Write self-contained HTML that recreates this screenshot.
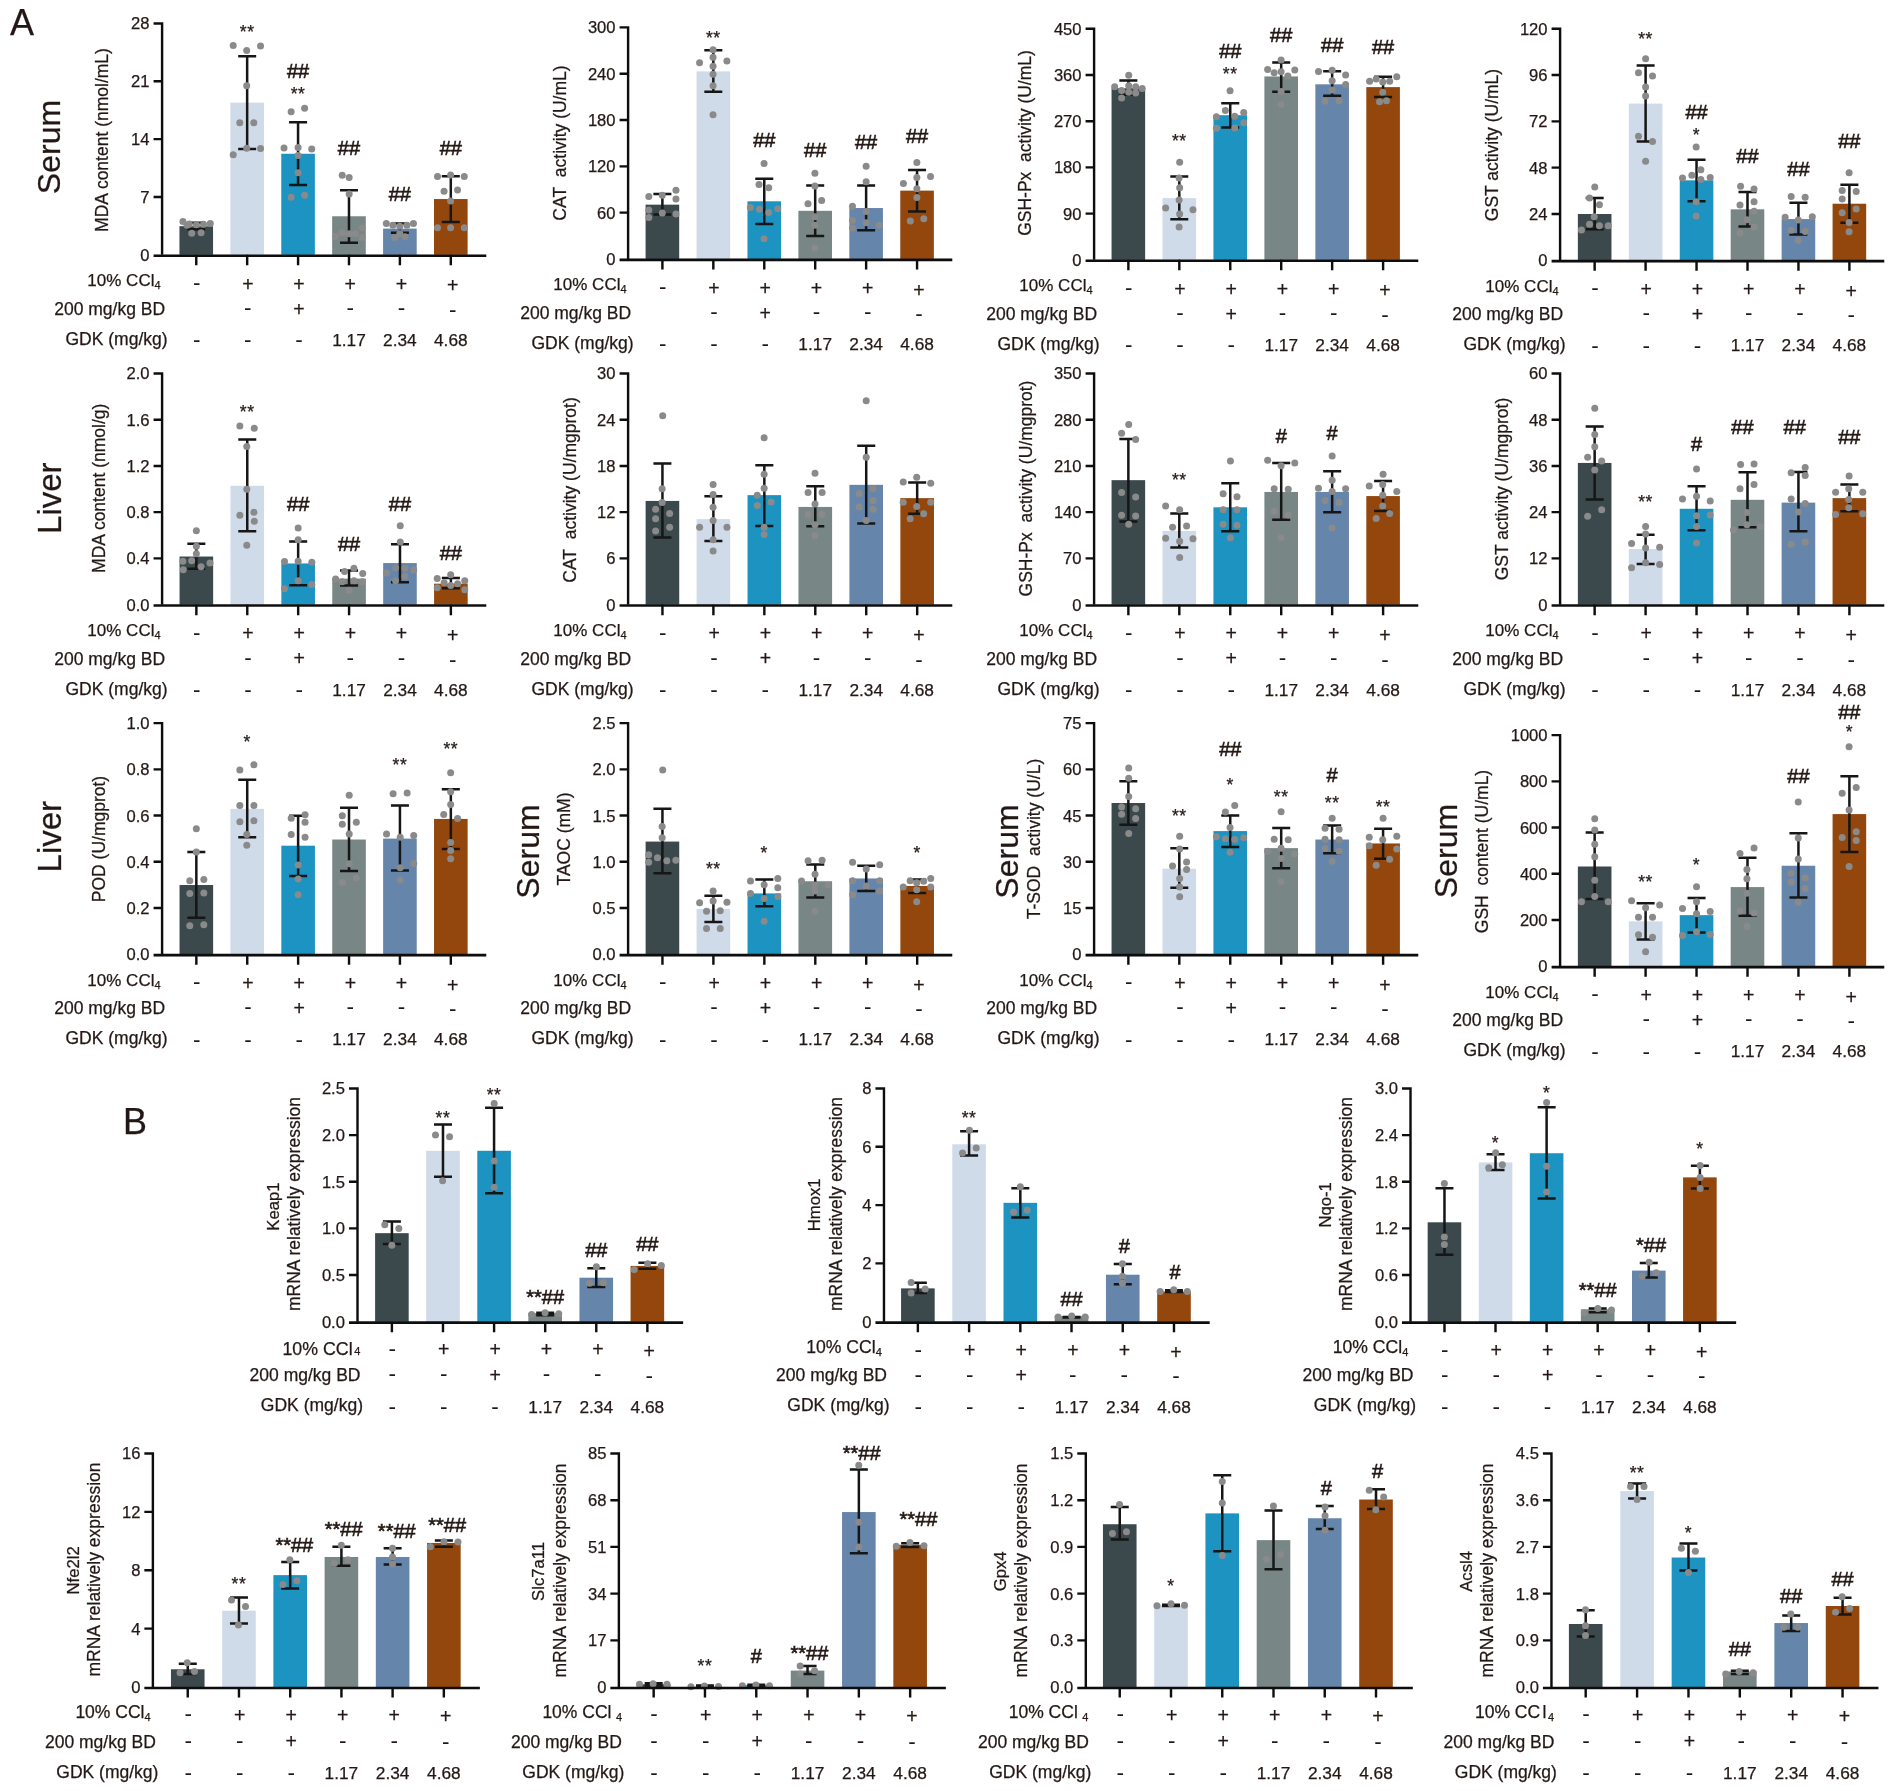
<!DOCTYPE html>
<html lang="en">
<head>
<meta charset="utf-8">
<title>Figure</title>
<style>
html,body{margin:0;padding:0;background:#fff;}
body{width:1902px;height:1791px;overflow:hidden;}
svg{display:block;font-family:'Liberation Sans', Arial, Helvetica, sans-serif;fill:#231815;}
text{stroke:#231815;stroke-width:0.25px;}
</style>
</head>
<body>
<svg width="1902" height="1791" viewBox="0 0 1902 1791">
<defs><filter id="soft" x="0" y="0" width="1902" height="1791" filterUnits="userSpaceOnUse"><feGaussianBlur stdDeviation="0.42"/></filter></defs>
<rect width="1902" height="1791" fill="#ffffff"/>
<g filter="url(#soft)">
<g id="c1">
<rect x="179.45" y="226.18" width="33.6" height="28.64" fill="#3a494e"/>
<rect x="230.36" y="102.65" width="33.6" height="152.17" fill="#d0dbea"/>
<rect x="281.27" y="153.75" width="33.6" height="101.07" fill="#1a93c1"/>
<rect x="332.18" y="216.26" width="33.6" height="38.56" fill="#788685"/>
<rect x="383.09" y="228.62" width="33.6" height="26.2" fill="#6685ab"/>
<rect x="434" y="199.04" width="33.6" height="55.78" fill="#94470a"/>
<g stroke="#161616" stroke-width="2.5" fill="none">
<path d="M187.25 222.81H205.25M187.25 229.36H205.25M196.25 222.81V229.36"/>
<path d="M238.16 56.23H256.16M238.16 148.88H256.16M247.16 56.23V148.88"/>
<path d="M289.07 122.3H307.07M289.07 185.01H307.07M298.07 122.3V185.01"/>
<path d="M339.98 190.25H357.98M339.98 242.65H357.98M348.98 190.25V242.65"/>
<path d="M390.89 223.38H408.89M390.89 232.73H408.89M399.89 223.38V232.73"/>
<path d="M441.8 176.21H459.8M441.8 222.07H459.8M450.8 176.21V222.07"/>
</g>
<g fill="#8a8a8a">
<circle cx="182.96" cy="221.5" r="3.5"/>
<circle cx="189.32" cy="223.94" r="3.5"/>
<circle cx="196.43" cy="224.87" r="3.5"/>
<circle cx="203.54" cy="224.31" r="3.5"/>
<circle cx="210.28" cy="223.38" r="3.5"/>
<circle cx="191.75" cy="233.3" r="3.5"/>
<circle cx="201.11" cy="232.73" r="3.5"/>
<circle cx="187.07" cy="225.25" r="3.5"/>
<circle cx="233.21" cy="45.56" r="3.5"/>
<circle cx="246.69" cy="50.62" r="3.5"/>
<circle cx="260.54" cy="46.12" r="3.5"/>
<circle cx="246.69" cy="85.8" r="3.5"/>
<circle cx="239.76" cy="122.86" r="3.5"/>
<circle cx="253.8" cy="122.86" r="3.5"/>
<circle cx="246.69" cy="148.13" r="3.5"/>
<circle cx="260.54" cy="148.51" r="3.5"/>
<circle cx="233.21" cy="154.68" r="3.5"/>
<circle cx="291.14" cy="111.63" r="3.5"/>
<circle cx="304.62" cy="108.26" r="3.5"/>
<circle cx="284.03" cy="147.95" r="3.5"/>
<circle cx="298.07" cy="147.57" r="3.5"/>
<circle cx="311.73" cy="149.07" r="3.5"/>
<circle cx="298.07" cy="155.62" r="3.5"/>
<circle cx="298.07" cy="172.84" r="3.5"/>
<circle cx="291.14" cy="197.17" r="3.5"/>
<circle cx="304.62" cy="195.3" r="3.5"/>
<circle cx="342.24" cy="175.27" r="3.5"/>
<circle cx="349.16" cy="177.52" r="3.5"/>
<circle cx="349.16" cy="193.99" r="3.5"/>
<circle cx="335.69" cy="236.48" r="3.5"/>
<circle cx="342.24" cy="232.73" r="3.5"/>
<circle cx="349.16" cy="233.67" r="3.5"/>
<circle cx="355.34" cy="233.67" r="3.5"/>
<circle cx="362.27" cy="228.05" r="3.5"/>
<circle cx="362.27" cy="237.41" r="3.5"/>
<circle cx="386.32" cy="223.38" r="3.5"/>
<circle cx="392.87" cy="225.25" r="3.5"/>
<circle cx="399.79" cy="226.18" r="3.5"/>
<circle cx="406.91" cy="225.25" r="3.5"/>
<circle cx="413.46" cy="223.38" r="3.5"/>
<circle cx="394.74" cy="237.41" r="3.5"/>
<circle cx="405.03" cy="236.85" r="3.5"/>
<circle cx="399.79" cy="233.67" r="3.5"/>
<circle cx="437.51" cy="176.58" r="3.5"/>
<circle cx="450.61" cy="175.09" r="3.5"/>
<circle cx="464.27" cy="176.58" r="3.5"/>
<circle cx="444.06" cy="191.18" r="3.5"/>
<circle cx="457.54" cy="190.06" r="3.5"/>
<circle cx="450.61" cy="200.91" r="3.5"/>
<circle cx="437.51" cy="227.68" r="3.5"/>
<circle cx="450.61" cy="227.68" r="3.5"/>
<circle cx="464.27" cy="227.68" r="3.5"/>
</g>
<path d="M162.09 22.28V254.82M153.59 196.98H162.09M153.59 139.15H162.09M153.59 81.31H162.09M153.59 23.48H162.09M196.25 254.82V265.32M247.16 254.82V265.32M298.07 254.82V265.32M348.98 254.82V265.32M399.89 254.82V265.32M450.8 254.82V265.32" stroke="#0a0a0a" stroke-width="2.4" fill="none"/>
<path d="M153.59 255.72H486.27" stroke="#0a0a0a" stroke-width="2.6" fill="none"/>
<text x="149.59" y="260.8" font-size="16.6" text-anchor="end">0</text>
<text x="149.59" y="202.96" font-size="16.6" text-anchor="end">7</text>
<text x="149.59" y="145.12" font-size="16.6" text-anchor="end">14</text>
<text x="149.59" y="87.29" font-size="16.6" text-anchor="end">21</text>
<text x="149.59" y="29.45" font-size="16.6" text-anchor="end">28</text>
<text x="247.16" y="37.93" font-size="17.5" text-anchor="middle" letter-spacing="0.6">**</text>
<text x="298.07" y="77.92" font-size="20" text-anchor="middle" style="stroke-width:0.6px">##</text>
<text x="298.07" y="99.7" font-size="17.5" text-anchor="middle" letter-spacing="0.6">**</text>
<text x="348.98" y="154.66" font-size="20" text-anchor="middle" style="stroke-width:0.6px">##</text>
<text x="399.89" y="201.45" font-size="20" text-anchor="middle" style="stroke-width:0.6px">##</text>
<text x="450.8" y="154.66" font-size="20" text-anchor="middle" style="stroke-width:0.6px">##</text>
<text transform="translate(108.02,140) rotate(-90)" font-size="17.5" text-anchor="middle">MDA content (nmol/mL)</text>
<text transform="translate(60.41,147) rotate(-90)" font-size="32" text-anchor="middle">Serum</text>
<text x="160.59" y="286.27" font-size="17" text-anchor="end">10% CCl<tspan dy="3" font-size="11">4</tspan></text>
<text x="196.65" y="290.02" font-size="22.5" text-anchor="middle" style="stroke:none">-</text>
<text x="247.86" y="290.51" font-size="19.5" text-anchor="middle">+</text>
<text x="299.07" y="290.51" font-size="19.5" text-anchor="middle">+</text>
<text x="350.28" y="290.51" font-size="19.5" text-anchor="middle">+</text>
<text x="401.49" y="290.51" font-size="19.5" text-anchor="middle">+</text>
<text x="452.7" y="292.41" font-size="19.5" text-anchor="middle">+</text>
<text x="165.09" y="314.84" font-size="17.5" text-anchor="end">200 mg/kg BD</text>
<text x="247.86" y="315.02" font-size="22.5" text-anchor="middle" style="stroke:none">-</text>
<text x="299.07" y="315.51" font-size="19.5" text-anchor="middle">+</text>
<text x="350.28" y="315.02" font-size="22.5" text-anchor="middle" style="stroke:none">-</text>
<text x="401.49" y="315.02" font-size="22.5" text-anchor="middle" style="stroke:none">-</text>
<text x="452.7" y="316.82" font-size="22.5" text-anchor="middle" style="stroke:none">-</text>
<text x="167.59" y="345.04" font-size="17.5" text-anchor="end">GDK (mg/kg)</text>
<text x="196.65" y="347.22" font-size="22.5" text-anchor="middle" style="stroke:none">-</text>
<text x="247.86" y="347.22" font-size="22.5" text-anchor="middle" style="stroke:none">-</text>
<text x="299.07" y="347.22" font-size="22.5" text-anchor="middle" style="stroke:none">-</text>
<text x="348.98" y="345.77" font-size="17.3" text-anchor="middle">1.17</text>
<text x="399.89" y="345.77" font-size="17.3" text-anchor="middle">2.34</text>
<text x="450.8" y="345.77" font-size="17.3" text-anchor="middle">4.68</text>
</g>
<g id="c2">
<rect x="645.59" y="204.66" width="33.6" height="54.28" fill="#3a494e"/>
<rect x="696.52" y="71.39" width="33.6" height="187.55" fill="#d0dbea"/>
<rect x="747.46" y="201.29" width="33.6" height="57.65" fill="#1a93c1"/>
<rect x="798.39" y="210.83" width="33.6" height="48.1" fill="#788685"/>
<rect x="849.33" y="208.03" width="33.6" height="50.91" fill="#6685ab"/>
<rect x="900.26" y="190.62" width="33.6" height="68.32" fill="#94470a"/>
<g stroke="#161616" stroke-width="2.5" fill="none">
<path d="M653.39 193.99H671.39M653.39 214.58H671.39M662.39 193.99V214.58"/>
<path d="M704.32 50.24H722.32M704.32 91.79H722.32M713.32 50.24V91.79"/>
<path d="M755.26 178.83H773.26M755.26 223.94H773.26M764.26 178.83V223.94"/>
<path d="M806.19 185.38H824.19M806.19 236.1H824.19M815.19 185.38V236.1"/>
<path d="M857.13 185.38H875.13M857.13 230.3H875.13M866.13 185.38V230.3"/>
<path d="M908.06 170.03H926.06M908.06 211.58H926.06M917.06 170.03V211.58"/>
</g>
<g fill="#8a8a8a">
<circle cx="648.82" cy="196.61" r="3.5"/>
<circle cx="662.29" cy="195.3" r="3.5"/>
<circle cx="675.96" cy="190.25" r="3.5"/>
<circle cx="675.96" cy="199.04" r="3.5"/>
<circle cx="648.82" cy="209.9" r="3.5"/>
<circle cx="662.29" cy="213.08" r="3.5"/>
<circle cx="675.96" cy="214.02" r="3.5"/>
<circle cx="648.82" cy="217.39" r="3.5"/>
<circle cx="713.04" cy="49.68" r="3.5"/>
<circle cx="713.04" cy="57.17" r="3.5"/>
<circle cx="699.57" cy="62.78" r="3.5"/>
<circle cx="726.89" cy="60.91" r="3.5"/>
<circle cx="713.04" cy="66.15" r="3.5"/>
<circle cx="713.04" cy="74.2" r="3.5"/>
<circle cx="713.04" cy="85.8" r="3.5"/>
<circle cx="713.04" cy="114.82" r="3.5"/>
<circle cx="764.07" cy="163.48" r="3.5"/>
<circle cx="759.02" cy="184.44" r="3.5"/>
<circle cx="768.75" cy="187.81" r="3.5"/>
<circle cx="750.41" cy="207.47" r="3.5"/>
<circle cx="759.39" cy="209.34" r="3.5"/>
<circle cx="768.75" cy="212.52" r="3.5"/>
<circle cx="777.73" cy="208.78" r="3.5"/>
<circle cx="764.07" cy="238.72" r="3.5"/>
<circle cx="814.91" cy="173.21" r="3.5"/>
<circle cx="814.91" cy="185.94" r="3.5"/>
<circle cx="821.65" cy="200.54" r="3.5"/>
<circle cx="807.99" cy="203.72" r="3.5"/>
<circle cx="814.91" cy="216.82" r="3.5"/>
<circle cx="814.91" cy="225.25" r="3.5"/>
<circle cx="814.91" cy="248.08" r="3.5"/>
<circle cx="866.13" cy="166.29" r="3.5"/>
<circle cx="866.13" cy="181.82" r="3.5"/>
<circle cx="852.46" cy="206.16" r="3.5"/>
<circle cx="866.13" cy="211.58" r="3.5"/>
<circle cx="852.46" cy="220.57" r="3.5"/>
<circle cx="866.13" cy="222.81" r="3.5"/>
<circle cx="879.23" cy="225.25" r="3.5"/>
<circle cx="852.46" cy="228.05" r="3.5"/>
<circle cx="916.87" cy="162.54" r="3.5"/>
<circle cx="930.54" cy="176.58" r="3.5"/>
<circle cx="903.4" cy="183.51" r="3.5"/>
<circle cx="916.87" cy="177.52" r="3.5"/>
<circle cx="916.87" cy="188.75" r="3.5"/>
<circle cx="916.87" cy="197.55" r="3.5"/>
<circle cx="923.8" cy="218.7" r="3.5"/>
<circle cx="910.32" cy="220.94" r="3.5"/>
</g>
<path d="M628.09 26.21V258.94M619.59 212.63H628.09M619.59 166.33H628.09M619.59 120.02H628.09M619.59 73.71H628.09M619.59 27.41H628.09M662.39 258.94V269.44M713.32 258.94V269.44M764.26 258.94V269.44M815.19 258.94V269.44M866.13 258.94V269.44M917.06 258.94V269.44" stroke="#0a0a0a" stroke-width="2.4" fill="none"/>
<path d="M619.59 259.84H952.27" stroke="#0a0a0a" stroke-width="2.6" fill="none"/>
<text x="615.59" y="264.91" font-size="16.6" text-anchor="end">0</text>
<text x="615.59" y="218.61" font-size="16.6" text-anchor="end">60</text>
<text x="615.59" y="172.3" font-size="16.6" text-anchor="end">120</text>
<text x="615.59" y="126" font-size="16.6" text-anchor="end">180</text>
<text x="615.59" y="79.69" font-size="16.6" text-anchor="end">240</text>
<text x="615.59" y="33.38" font-size="16.6" text-anchor="end">300</text>
<text x="713.32" y="43.55" font-size="17.5" text-anchor="middle" letter-spacing="0.6">**</text>
<text x="764.26" y="147.17" font-size="20" text-anchor="middle" style="stroke-width:0.6px">##</text>
<text x="815.19" y="156.9" font-size="20" text-anchor="middle" style="stroke-width:0.6px">##</text>
<text x="866.13" y="149.42" font-size="20" text-anchor="middle" style="stroke-width:0.6px">##</text>
<text x="917.06" y="143.43" font-size="20" text-anchor="middle" style="stroke-width:0.6px">##</text>
<text transform="translate(566.02,143) rotate(-90)" font-size="17.5" text-anchor="middle">CAT&#160;&#160;activity (U/mL)</text>
<text x="626.59" y="290.39" font-size="17" text-anchor="end">10% CCl<tspan dy="3" font-size="11">4</tspan></text>
<text x="662.79" y="294.13" font-size="22.5" text-anchor="middle" style="stroke:none">-</text>
<text x="714.02" y="294.63" font-size="19.5" text-anchor="middle">+</text>
<text x="765.26" y="294.63" font-size="19.5" text-anchor="middle">+</text>
<text x="816.49" y="294.63" font-size="19.5" text-anchor="middle">+</text>
<text x="867.73" y="294.63" font-size="19.5" text-anchor="middle">+</text>
<text x="918.96" y="296.53" font-size="19.5" text-anchor="middle">+</text>
<text x="631.09" y="318.96" font-size="17.5" text-anchor="end">200 mg/kg BD</text>
<text x="714.02" y="319.13" font-size="22.5" text-anchor="middle" style="stroke:none">-</text>
<text x="765.26" y="319.63" font-size="19.5" text-anchor="middle">+</text>
<text x="816.49" y="319.13" font-size="22.5" text-anchor="middle" style="stroke:none">-</text>
<text x="867.73" y="319.13" font-size="22.5" text-anchor="middle" style="stroke:none">-</text>
<text x="918.96" y="320.93" font-size="22.5" text-anchor="middle" style="stroke:none">-</text>
<text x="633.59" y="349.16" font-size="17.5" text-anchor="end">GDK (mg/kg)</text>
<text x="662.79" y="351.33" font-size="22.5" text-anchor="middle" style="stroke:none">-</text>
<text x="714.02" y="351.33" font-size="22.5" text-anchor="middle" style="stroke:none">-</text>
<text x="765.26" y="351.33" font-size="22.5" text-anchor="middle" style="stroke:none">-</text>
<text x="815.19" y="349.89" font-size="17.3" text-anchor="middle">1.17</text>
<text x="866.13" y="349.89" font-size="17.3" text-anchor="middle">2.34</text>
<text x="917.06" y="349.89" font-size="17.3" text-anchor="middle">4.68</text>
</g>
<g id="c3">
<rect x="1111.55" y="88.24" width="33.6" height="171.64" fill="#3a494e"/>
<rect x="1162.5" y="198.11" width="33.6" height="61.77" fill="#d0dbea"/>
<rect x="1213.45" y="115.19" width="33.6" height="144.68" fill="#1a93c1"/>
<rect x="1264.4" y="76.45" width="33.6" height="183.43" fill="#788685"/>
<rect x="1315.35" y="84.31" width="33.6" height="175.57" fill="#6685ab"/>
<rect x="1366.3" y="87.11" width="33.6" height="172.76" fill="#94470a"/>
<g stroke="#161616" stroke-width="2.5" fill="none">
<path d="M1119.35 80.56H1137.35M1119.35 94.79H1137.35M1128.35 80.56V94.79"/>
<path d="M1170.3 176.58H1188.3M1170.3 219.26H1188.3M1179.3 176.58V219.26"/>
<path d="M1221.25 103.21H1239.25M1221.25 127.54H1239.25M1230.25 103.21V127.54"/>
<path d="M1272.2 62.41H1290.2M1272.2 91.79H1290.2M1281.2 62.41V91.79"/>
<path d="M1323.15 71.21H1341.15M1323.15 95.72H1341.15M1332.15 71.21V95.72"/>
<path d="M1374.1 76.82H1392.1M1374.1 97.03H1392.1M1383.1 76.82V97.03"/>
</g>
<g fill="#8a8a8a">
<circle cx="1128.72" cy="75.14" r="3.5"/>
<circle cx="1114.68" cy="86.74" r="3.5"/>
<circle cx="1121.61" cy="90.48" r="3.5"/>
<circle cx="1128.72" cy="85.8" r="3.5"/>
<circle cx="1135.65" cy="86.74" r="3.5"/>
<circle cx="1142.2" cy="88.61" r="3.5"/>
<circle cx="1128.72" cy="92.36" r="3.5"/>
<circle cx="1135.65" cy="92.92" r="3.5"/>
<circle cx="1121.61" cy="97.97" r="3.5"/>
<circle cx="1179.67" cy="162.17" r="3.5"/>
<circle cx="1179.11" cy="177.89" r="3.5"/>
<circle cx="1179.67" cy="187.81" r="3.5"/>
<circle cx="1179.11" cy="199.98" r="3.5"/>
<circle cx="1165.63" cy="208.03" r="3.5"/>
<circle cx="1192.96" cy="209.71" r="3.5"/>
<circle cx="1179.67" cy="214.02" r="3.5"/>
<circle cx="1179.11" cy="227.12" r="3.5"/>
<circle cx="1230.06" cy="90.86" r="3.5"/>
<circle cx="1225.38" cy="110.51" r="3.5"/>
<circle cx="1243.73" cy="112.38" r="3.5"/>
<circle cx="1216.4" cy="116.69" r="3.5"/>
<circle cx="1234.74" cy="116.31" r="3.5"/>
<circle cx="1243.73" cy="122.68" r="3.5"/>
<circle cx="1216.4" cy="128.29" r="3.5"/>
<circle cx="1234.74" cy="127.92" r="3.5"/>
<circle cx="1281.11" cy="59.97" r="3.5"/>
<circle cx="1267.63" cy="69.52" r="3.5"/>
<circle cx="1294.77" cy="69.89" r="3.5"/>
<circle cx="1274.18" cy="72.7" r="3.5"/>
<circle cx="1281.11" cy="71.77" r="3.5"/>
<circle cx="1287.84" cy="75.88" r="3.5"/>
<circle cx="1281.11" cy="91.42" r="3.5"/>
<circle cx="1281.11" cy="104.52" r="3.5"/>
<circle cx="1318.49" cy="71.39" r="3.5"/>
<circle cx="1332.15" cy="70.27" r="3.5"/>
<circle cx="1345.63" cy="74.95" r="3.5"/>
<circle cx="1332.15" cy="80.75" r="3.5"/>
<circle cx="1345.63" cy="84.49" r="3.5"/>
<circle cx="1332.15" cy="89.92" r="3.5"/>
<circle cx="1325.04" cy="101.34" r="3.5"/>
<circle cx="1339.08" cy="100.78" r="3.5"/>
<circle cx="1396.76" cy="76.82" r="3.5"/>
<circle cx="1369.62" cy="81.13" r="3.5"/>
<circle cx="1376.18" cy="78.88" r="3.5"/>
<circle cx="1382.73" cy="82.06" r="3.5"/>
<circle cx="1389.65" cy="81.13" r="3.5"/>
<circle cx="1382.73" cy="92.36" r="3.5"/>
<circle cx="1379.54" cy="101.71" r="3.5"/>
<circle cx="1386.47" cy="100.78" r="3.5"/>
</g>
<path d="M1094.09 27.52V259.87M1085.59 213.64H1094.09M1085.59 167.41H1094.09M1085.59 121.18H1094.09M1085.59 74.95H1094.09M1085.59 28.72H1094.09M1128.35 259.87V270.37M1179.3 259.87V270.37M1230.25 259.87V270.37M1281.2 259.87V270.37M1332.15 259.87V270.37M1383.1 259.87V270.37" stroke="#0a0a0a" stroke-width="2.4" fill="none"/>
<path d="M1085.59 260.77H1418.27" stroke="#0a0a0a" stroke-width="2.6" fill="none"/>
<text x="1081.59" y="265.85" font-size="16.6" text-anchor="end">0</text>
<text x="1081.59" y="219.62" font-size="16.6" text-anchor="end">90</text>
<text x="1081.59" y="173.39" font-size="16.6" text-anchor="end">180</text>
<text x="1081.59" y="127.16" font-size="16.6" text-anchor="end">270</text>
<text x="1081.59" y="80.92" font-size="16.6" text-anchor="end">360</text>
<text x="1081.59" y="34.69" font-size="16.6" text-anchor="end">450</text>
<text x="1179.3" y="147.05" font-size="17.5" text-anchor="middle" letter-spacing="0.6">**</text>
<text x="1230.25" y="57.7" font-size="20" text-anchor="middle" style="stroke-width:0.6px">##</text>
<text x="1230.25" y="80.04" font-size="17.5" text-anchor="middle" letter-spacing="0.6">**</text>
<text x="1281.2" y="42.35" font-size="20" text-anchor="middle" style="stroke-width:0.6px">##</text>
<text x="1332.15" y="51.71" font-size="20" text-anchor="middle" style="stroke-width:0.6px">##</text>
<text x="1383.1" y="54.15" font-size="20" text-anchor="middle" style="stroke-width:0.6px">##</text>
<text transform="translate(1031.02,143) rotate(-90)" font-size="17.5" text-anchor="middle">GSH-Px&#160;&#160;activity (U/mL)</text>
<text x="1092.59" y="291.32" font-size="17" text-anchor="end">10% CCl<tspan dy="3" font-size="11">4</tspan></text>
<text x="1128.75" y="295.07" font-size="22.5" text-anchor="middle" style="stroke:none">-</text>
<text x="1180" y="295.57" font-size="19.5" text-anchor="middle">+</text>
<text x="1231.25" y="295.57" font-size="19.5" text-anchor="middle">+</text>
<text x="1282.5" y="295.57" font-size="19.5" text-anchor="middle">+</text>
<text x="1333.75" y="295.57" font-size="19.5" text-anchor="middle">+</text>
<text x="1385" y="297.47" font-size="19.5" text-anchor="middle">+</text>
<text x="1097.09" y="319.89" font-size="17.5" text-anchor="end">200 mg/kg BD</text>
<text x="1180" y="320.07" font-size="22.5" text-anchor="middle" style="stroke:none">-</text>
<text x="1231.25" y="320.57" font-size="19.5" text-anchor="middle">+</text>
<text x="1282.5" y="320.07" font-size="22.5" text-anchor="middle" style="stroke:none">-</text>
<text x="1333.75" y="320.07" font-size="22.5" text-anchor="middle" style="stroke:none">-</text>
<text x="1385" y="321.87" font-size="22.5" text-anchor="middle" style="stroke:none">-</text>
<text x="1099.59" y="350.09" font-size="17.5" text-anchor="end">GDK (mg/kg)</text>
<text x="1128.75" y="352.27" font-size="22.5" text-anchor="middle" style="stroke:none">-</text>
<text x="1180" y="352.27" font-size="22.5" text-anchor="middle" style="stroke:none">-</text>
<text x="1231.25" y="352.27" font-size="22.5" text-anchor="middle" style="stroke:none">-</text>
<text x="1281.2" y="350.83" font-size="17.3" text-anchor="middle">1.17</text>
<text x="1332.15" y="350.83" font-size="17.3" text-anchor="middle">2.34</text>
<text x="1383.1" y="350.83" font-size="17.3" text-anchor="middle">4.68</text>
</g>
<g id="c4">
<rect x="1577.86" y="214.02" width="33.6" height="46.23" fill="#3a494e"/>
<rect x="1628.81" y="103.59" width="33.6" height="156.66" fill="#d0dbea"/>
<rect x="1679.75" y="180.33" width="33.6" height="79.92" fill="#1a93c1"/>
<rect x="1730.69" y="209.34" width="33.6" height="50.91" fill="#788685"/>
<rect x="1781.63" y="219.07" width="33.6" height="41.18" fill="#6685ab"/>
<rect x="1832.58" y="203.72" width="33.6" height="56.53" fill="#94470a"/>
<g stroke="#161616" stroke-width="2.5" fill="none">
<path d="M1585.66 198.11H1603.66M1585.66 229.36H1603.66M1594.66 198.11V229.36"/>
<path d="M1636.61 65.59H1654.61M1636.61 141.39H1654.61M1645.61 65.59V141.39"/>
<path d="M1687.55 159.74H1705.55M1687.55 201.29H1705.55M1696.55 159.74V201.29"/>
<path d="M1738.49 191.93H1756.49M1738.49 226.56H1756.49M1747.49 191.93V226.56"/>
<path d="M1789.43 202.79H1807.43M1789.43 234.61H1807.43M1798.43 202.79V234.61"/>
<path d="M1840.38 184.63H1858.38M1840.38 222.81H1858.38M1849.38 184.63V222.81"/>
</g>
<g fill="#8a8a8a">
<circle cx="1594.76" cy="186.88" r="3.5"/>
<circle cx="1589.52" cy="198.11" r="3.5"/>
<circle cx="1599.44" cy="204.66" r="3.5"/>
<circle cx="1594.2" cy="216.82" r="3.5"/>
<circle cx="1589.52" cy="224.31" r="3.5"/>
<circle cx="1599.44" cy="225.81" r="3.5"/>
<circle cx="1608.23" cy="225.81" r="3.5"/>
<circle cx="1581.47" cy="229.93" r="3.5"/>
<circle cx="1645.61" cy="58.66" r="3.5"/>
<circle cx="1638.49" cy="72.7" r="3.5"/>
<circle cx="1652.53" cy="76.07" r="3.5"/>
<circle cx="1645.61" cy="87.11" r="3.5"/>
<circle cx="1645.61" cy="96.1" r="3.5"/>
<circle cx="1638.49" cy="136.34" r="3.5"/>
<circle cx="1652.53" cy="141.58" r="3.5"/>
<circle cx="1645.61" cy="161.23" r="3.5"/>
<circle cx="1696.17" cy="147.01" r="3.5"/>
<circle cx="1700.85" cy="169.66" r="3.5"/>
<circle cx="1691.87" cy="175.27" r="3.5"/>
<circle cx="1682.51" cy="177.89" r="3.5"/>
<circle cx="1700.85" cy="179.39" r="3.5"/>
<circle cx="1710.21" cy="177.52" r="3.5"/>
<circle cx="1696.17" cy="201.85" r="3.5"/>
<circle cx="1696.17" cy="215.89" r="3.5"/>
<circle cx="1740.57" cy="186.32" r="3.5"/>
<circle cx="1754.04" cy="189.12" r="3.5"/>
<circle cx="1754.04" cy="201.85" r="3.5"/>
<circle cx="1740.01" cy="205.03" r="3.5"/>
<circle cx="1754.04" cy="211.21" r="3.5"/>
<circle cx="1746.93" cy="219.63" r="3.5"/>
<circle cx="1754.04" cy="227.12" r="3.5"/>
<circle cx="1740.01" cy="233.11" r="3.5"/>
<circle cx="1791.14" cy="196.61" r="3.5"/>
<circle cx="1805.17" cy="197.17" r="3.5"/>
<circle cx="1785.15" cy="217.2" r="3.5"/>
<circle cx="1812.29" cy="216.82" r="3.5"/>
<circle cx="1798.25" cy="220.01" r="3.5"/>
<circle cx="1791.14" cy="230.3" r="3.5"/>
<circle cx="1805.17" cy="231.42" r="3.5"/>
<circle cx="1798.25" cy="240.6" r="3.5"/>
<circle cx="1849.1" cy="172.84" r="3.5"/>
<circle cx="1842.17" cy="190.62" r="3.5"/>
<circle cx="1856.21" cy="191.56" r="3.5"/>
<circle cx="1842.17" cy="199.04" r="3.5"/>
<circle cx="1856.21" cy="208.96" r="3.5"/>
<circle cx="1842.17" cy="212.71" r="3.5"/>
<circle cx="1849.1" cy="222.44" r="3.5"/>
<circle cx="1849.1" cy="231.8" r="3.5"/>
</g>
<path d="M1560.09 27.52V260.25M1551.59 213.94H1560.09M1551.59 167.64H1560.09M1551.59 121.33H1560.09M1551.59 75.02H1560.09M1551.59 28.72H1560.09M1594.66 260.25V270.75M1645.61 260.25V270.75M1696.55 260.25V270.75M1747.49 260.25V270.75M1798.43 260.25V270.75M1849.38 260.25V270.75" stroke="#0a0a0a" stroke-width="2.4" fill="none"/>
<path d="M1551.59 261.15H1884.27" stroke="#0a0a0a" stroke-width="2.6" fill="none"/>
<text x="1547.59" y="266.22" font-size="16.6" text-anchor="end">0</text>
<text x="1547.59" y="219.92" font-size="16.6" text-anchor="end">24</text>
<text x="1547.59" y="173.61" font-size="16.6" text-anchor="end">48</text>
<text x="1547.59" y="127.31" font-size="16.6" text-anchor="end">72</text>
<text x="1547.59" y="81" font-size="16.6" text-anchor="end">96</text>
<text x="1547.59" y="34.69" font-size="16.6" text-anchor="end">120</text>
<text x="1645.61" y="45.42" font-size="17.5" text-anchor="middle" letter-spacing="0.6">**</text>
<text x="1696.55" y="119.09" font-size="20" text-anchor="middle" style="stroke-width:0.6px">##</text>
<text x="1696.55" y="140.87" font-size="17.5" text-anchor="middle" letter-spacing="0.6">*</text>
<text x="1747.49" y="163.45" font-size="20" text-anchor="middle" style="stroke-width:0.6px">##</text>
<text x="1798.43" y="176.18" font-size="20" text-anchor="middle" style="stroke-width:0.6px">##</text>
<text x="1849.38" y="148.48" font-size="20" text-anchor="middle" style="stroke-width:0.6px">##</text>
<text transform="translate(1498.02,145) rotate(-90)" font-size="17.5" text-anchor="middle">GST activity (U/mL)</text>
<text x="1558.59" y="291.7" font-size="17" text-anchor="end">10% CCl<tspan dy="3" font-size="11">4</tspan></text>
<text x="1595.06" y="295.44" font-size="22.5" text-anchor="middle" style="stroke:none">-</text>
<text x="1646.31" y="295.94" font-size="19.5" text-anchor="middle">+</text>
<text x="1697.55" y="295.94" font-size="19.5" text-anchor="middle">+</text>
<text x="1748.79" y="295.94" font-size="19.5" text-anchor="middle">+</text>
<text x="1800.03" y="295.94" font-size="19.5" text-anchor="middle">+</text>
<text x="1851.28" y="297.84" font-size="19.5" text-anchor="middle">+</text>
<text x="1563.09" y="320.27" font-size="17.5" text-anchor="end">200 mg/kg BD</text>
<text x="1646.31" y="320.44" font-size="22.5" text-anchor="middle" style="stroke:none">-</text>
<text x="1697.55" y="320.94" font-size="19.5" text-anchor="middle">+</text>
<text x="1748.79" y="320.44" font-size="22.5" text-anchor="middle" style="stroke:none">-</text>
<text x="1800.03" y="320.44" font-size="22.5" text-anchor="middle" style="stroke:none">-</text>
<text x="1851.28" y="322.24" font-size="22.5" text-anchor="middle" style="stroke:none">-</text>
<text x="1565.59" y="350.47" font-size="17.5" text-anchor="end">GDK (mg/kg)</text>
<text x="1595.06" y="352.64" font-size="22.5" text-anchor="middle" style="stroke:none">-</text>
<text x="1646.31" y="352.64" font-size="22.5" text-anchor="middle" style="stroke:none">-</text>
<text x="1697.55" y="352.64" font-size="22.5" text-anchor="middle" style="stroke:none">-</text>
<text x="1747.49" y="351.2" font-size="17.3" text-anchor="middle">1.17</text>
<text x="1798.43" y="351.2" font-size="17.3" text-anchor="middle">2.34</text>
<text x="1849.38" y="351.2" font-size="17.3" text-anchor="middle">4.68</text>
</g>
<g id="c5">
<rect x="179.55" y="556.53" width="33.6" height="48.1" fill="#3a494e"/>
<rect x="230.46" y="485.78" width="33.6" height="118.85" fill="#d0dbea"/>
<rect x="281.36" y="563.46" width="33.6" height="41.18" fill="#1a93c1"/>
<rect x="332.27" y="578.62" width="33.6" height="26.02" fill="#788685"/>
<rect x="383.17" y="563.08" width="33.6" height="41.55" fill="#6685ab"/>
<rect x="434.08" y="583.67" width="33.6" height="20.96" fill="#94470a"/>
<g stroke="#161616" stroke-width="2.5" fill="none">
<path d="M187.35 543.8H205.35M187.35 568.7H205.35M196.35 543.8V568.7"/>
<path d="M238.26 439.55H256.26M238.26 531.26H256.26M247.26 439.55V531.26"/>
<path d="M289.16 541.56H307.16M289.16 585.17H307.16M298.16 541.56V585.17"/>
<path d="M340.07 570.57H358.07M340.07 585.54H358.07M349.07 570.57V585.54"/>
<path d="M390.97 544.36H408.97M390.97 582.17H408.97M399.97 544.36V582.17"/>
<path d="M441.88 578.05H459.88M441.88 588.35H459.88M450.88 578.05V588.35"/>
</g>
<g fill="#8a8a8a">
<circle cx="196.35" cy="530.7" r="3.5"/>
<circle cx="196.35" cy="546.24" r="3.5"/>
<circle cx="196.35" cy="553.72" r="3.5"/>
<circle cx="182.88" cy="561.21" r="3.5"/>
<circle cx="191.67" cy="560.83" r="3.5"/>
<circle cx="210.02" cy="563.08" r="3.5"/>
<circle cx="201.03" cy="566.82" r="3.5"/>
<circle cx="183.25" cy="569.63" r="3.5"/>
<circle cx="239.86" cy="426.07" r="3.5"/>
<circle cx="254.28" cy="428.32" r="3.5"/>
<circle cx="246.79" cy="446.47" r="3.5"/>
<circle cx="246.79" cy="489.15" r="3.5"/>
<circle cx="253.9" cy="512.17" r="3.5"/>
<circle cx="239.86" cy="515.35" r="3.5"/>
<circle cx="254.28" cy="521.34" r="3.5"/>
<circle cx="246.79" cy="545.3" r="3.5"/>
<circle cx="298.16" cy="527.89" r="3.5"/>
<circle cx="298.16" cy="539.68" r="3.5"/>
<circle cx="284.5" cy="561.58" r="3.5"/>
<circle cx="298.16" cy="561.21" r="3.5"/>
<circle cx="311.83" cy="562.15" r="3.5"/>
<circle cx="298.16" cy="580.86" r="3.5"/>
<circle cx="311.83" cy="584.61" r="3.5"/>
<circle cx="284.5" cy="588.72" r="3.5"/>
<circle cx="353.93" cy="568.13" r="3.5"/>
<circle cx="344.58" cy="571.5" r="3.5"/>
<circle cx="362.73" cy="573.38" r="3.5"/>
<circle cx="335.59" cy="578.99" r="3.5"/>
<circle cx="342.14" cy="581.8" r="3.5"/>
<circle cx="353.93" cy="580.86" r="3.5"/>
<circle cx="362.17" cy="581.8" r="3.5"/>
<circle cx="349.07" cy="590.22" r="3.5"/>
<circle cx="400.25" cy="525.65" r="3.5"/>
<circle cx="400.25" cy="541.93" r="3.5"/>
<circle cx="395.57" cy="567.76" r="3.5"/>
<circle cx="404.93" cy="568.13" r="3.5"/>
<circle cx="413.73" cy="570.01" r="3.5"/>
<circle cx="386.59" cy="573" r="3.5"/>
<circle cx="404.93" cy="576.18" r="3.5"/>
<circle cx="395.57" cy="580.86" r="3.5"/>
<circle cx="450.69" cy="574.87" r="3.5"/>
<circle cx="437.21" cy="578.62" r="3.5"/>
<circle cx="464.73" cy="580.86" r="3.5"/>
<circle cx="444.14" cy="582.73" r="3.5"/>
<circle cx="457.62" cy="583.67" r="3.5"/>
<circle cx="450.69" cy="585.54" r="3.5"/>
<circle cx="437.21" cy="587.79" r="3.5"/>
<circle cx="464.73" cy="589.66" r="3.5"/>
</g>
<path d="M162.09 372.28V604.63M153.59 558.4H162.09M153.59 512.17H162.09M153.59 465.94H162.09M153.59 419.71H162.09M153.59 373.48H162.09M196.35 604.63V615.13M247.26 604.63V615.13M298.16 604.63V615.13M349.07 604.63V615.13M399.97 604.63V615.13M450.88 604.63V615.13" stroke="#0a0a0a" stroke-width="2.4" fill="none"/>
<path d="M153.59 605.53H486.27" stroke="#0a0a0a" stroke-width="2.6" fill="none"/>
<text x="149.59" y="610.61" font-size="16.6" text-anchor="end">0.0</text>
<text x="149.59" y="564.38" font-size="16.6" text-anchor="end">0.4</text>
<text x="149.59" y="518.15" font-size="16.6" text-anchor="end">0.8</text>
<text x="149.59" y="471.92" font-size="16.6" text-anchor="end">1.2</text>
<text x="149.59" y="425.68" font-size="16.6" text-anchor="end">1.6</text>
<text x="149.59" y="379.45" font-size="16.6" text-anchor="end">2.0</text>
<text x="247.26" y="417.88" font-size="17.5" text-anchor="middle" letter-spacing="0.6">**</text>
<text x="298.16" y="511.21" font-size="20" text-anchor="middle" style="stroke-width:0.6px">##</text>
<text x="349.07" y="550.51" font-size="20" text-anchor="middle" style="stroke-width:0.6px">##</text>
<text x="399.97" y="511.21" font-size="20" text-anchor="middle" style="stroke-width:0.6px">##</text>
<text x="450.88" y="559.5" font-size="20" text-anchor="middle" style="stroke-width:0.6px">##</text>
<text transform="translate(104.72,488.3) rotate(-90)" font-size="17.5" text-anchor="middle">MDA content (nmol/g)</text>
<text transform="translate(60.55,498.2) rotate(-90)" font-size="33" text-anchor="middle">Liver</text>
<text x="160.59" y="636.08" font-size="17" text-anchor="end">10% CCl<tspan dy="3" font-size="11">4</tspan></text>
<text x="196.75" y="639.83" font-size="22.5" text-anchor="middle" style="stroke:none">-</text>
<text x="247.96" y="640.33" font-size="19.5" text-anchor="middle">+</text>
<text x="299.16" y="640.33" font-size="19.5" text-anchor="middle">+</text>
<text x="350.37" y="640.33" font-size="19.5" text-anchor="middle">+</text>
<text x="401.57" y="640.33" font-size="19.5" text-anchor="middle">+</text>
<text x="452.78" y="642.23" font-size="19.5" text-anchor="middle">+</text>
<text x="165.09" y="664.65" font-size="17.5" text-anchor="end">200 mg/kg BD</text>
<text x="247.96" y="664.83" font-size="22.5" text-anchor="middle" style="stroke:none">-</text>
<text x="299.16" y="665.33" font-size="19.5" text-anchor="middle">+</text>
<text x="350.37" y="664.83" font-size="22.5" text-anchor="middle" style="stroke:none">-</text>
<text x="401.57" y="664.83" font-size="22.5" text-anchor="middle" style="stroke:none">-</text>
<text x="452.78" y="666.63" font-size="22.5" text-anchor="middle" style="stroke:none">-</text>
<text x="167.59" y="694.85" font-size="17.5" text-anchor="end">GDK (mg/kg)</text>
<text x="196.75" y="697.03" font-size="22.5" text-anchor="middle" style="stroke:none">-</text>
<text x="247.96" y="697.03" font-size="22.5" text-anchor="middle" style="stroke:none">-</text>
<text x="299.16" y="697.03" font-size="22.5" text-anchor="middle" style="stroke:none">-</text>
<text x="349.07" y="695.58" font-size="17.3" text-anchor="middle">1.17</text>
<text x="399.97" y="695.58" font-size="17.3" text-anchor="middle">2.34</text>
<text x="450.88" y="695.58" font-size="17.3" text-anchor="middle">4.68</text>
</g>
<g id="c6">
<rect x="645.63" y="500.94" width="33.6" height="103.69" fill="#3a494e"/>
<rect x="696.58" y="519.1" width="33.6" height="85.54" fill="#d0dbea"/>
<rect x="747.53" y="495.14" width="33.6" height="109.5" fill="#1a93c1"/>
<rect x="798.48" y="506.93" width="33.6" height="97.7" fill="#788685"/>
<rect x="849.42" y="484.84" width="33.6" height="119.79" fill="#6685ab"/>
<rect x="900.37" y="498.13" width="33.6" height="106.5" fill="#94470a"/>
<g stroke="#161616" stroke-width="2.5" fill="none">
<path d="M653.43 463.51H671.43M653.43 537.44H671.43M662.43 463.51V537.44"/>
<path d="M704.38 496.26H722.38M704.38 540.99H722.38M713.38 496.26V540.99"/>
<path d="M755.33 465.19H773.33M755.33 526.02H773.33M764.33 465.19V526.02"/>
<path d="M806.28 486.34H824.28M806.28 526.21H824.28M815.28 486.34V526.21"/>
<path d="M857.22 445.72H875.22M857.22 523.4H875.22M866.22 445.72V523.4"/>
<path d="M908.17 482.6H926.17M908.17 513.85H926.17M917.17 482.6V513.85"/>
</g>
<g fill="#8a8a8a">
<circle cx="662.71" cy="415.78" r="3.5"/>
<circle cx="662.15" cy="488.77" r="3.5"/>
<circle cx="662.15" cy="502.62" r="3.5"/>
<circle cx="655.6" cy="509.36" r="3.5"/>
<circle cx="669.64" cy="513.48" r="3.5"/>
<circle cx="655.6" cy="518.72" r="3.5"/>
<circle cx="669.64" cy="527.14" r="3.5"/>
<circle cx="655.6" cy="530.89" r="3.5"/>
<circle cx="713.1" cy="484.47" r="3.5"/>
<circle cx="713.1" cy="494.39" r="3.5"/>
<circle cx="713.1" cy="507.3" r="3.5"/>
<circle cx="713.1" cy="520.41" r="3.5"/>
<circle cx="699.62" cy="527.14" r="3.5"/>
<circle cx="726.95" cy="527.14" r="3.5"/>
<circle cx="713.1" cy="539.68" r="3.5"/>
<circle cx="713.1" cy="550.91" r="3.5"/>
<circle cx="764.14" cy="437.68" r="3.5"/>
<circle cx="764.14" cy="474.17" r="3.5"/>
<circle cx="764.14" cy="488.21" r="3.5"/>
<circle cx="757.22" cy="495.14" r="3.5"/>
<circle cx="771.07" cy="501.88" r="3.5"/>
<circle cx="757.22" cy="505.62" r="3.5"/>
<circle cx="764.14" cy="527.14" r="3.5"/>
<circle cx="764.14" cy="534.44" r="3.5"/>
<circle cx="815" cy="473.24" r="3.5"/>
<circle cx="808.07" cy="492.52" r="3.5"/>
<circle cx="822.11" cy="492.52" r="3.5"/>
<circle cx="815" cy="504.12" r="3.5"/>
<circle cx="808.07" cy="514.42" r="3.5"/>
<circle cx="822.11" cy="514.42" r="3.5"/>
<circle cx="815" cy="524.71" r="3.5"/>
<circle cx="815" cy="535.38" r="3.5"/>
<circle cx="866.22" cy="400.8" r="3.5"/>
<circle cx="866.22" cy="457.33" r="3.5"/>
<circle cx="873.15" cy="488.77" r="3.5"/>
<circle cx="859.11" cy="493.45" r="3.5"/>
<circle cx="873.15" cy="500.38" r="3.5"/>
<circle cx="859.11" cy="506.93" r="3.5"/>
<circle cx="873.15" cy="509.18" r="3.5"/>
<circle cx="866.22" cy="520.59" r="3.5"/>
<circle cx="916.7" cy="477.36" r="3.5"/>
<circle cx="903.23" cy="482.04" r="3.5"/>
<circle cx="930.74" cy="483.16" r="3.5"/>
<circle cx="903.23" cy="502.25" r="3.5"/>
<circle cx="930.74" cy="502.25" r="3.5"/>
<circle cx="916.7" cy="506.56" r="3.5"/>
<circle cx="923.63" cy="513.85" r="3.5"/>
<circle cx="910.15" cy="518.72" r="3.5"/>
</g>
<path d="M628.09 372.28V604.63M619.59 558.4H628.09M619.59 512.17H628.09M619.59 465.94H628.09M619.59 419.71H628.09M619.59 373.48H628.09M662.43 604.63V615.13M713.38 604.63V615.13M764.33 604.63V615.13M815.28 604.63V615.13M866.22 604.63V615.13M917.17 604.63V615.13" stroke="#0a0a0a" stroke-width="2.4" fill="none"/>
<path d="M619.59 605.53H952.27" stroke="#0a0a0a" stroke-width="2.6" fill="none"/>
<text x="615.59" y="610.61" font-size="16.6" text-anchor="end">0</text>
<text x="615.59" y="564.38" font-size="16.6" text-anchor="end">6</text>
<text x="615.59" y="518.15" font-size="16.6" text-anchor="end">12</text>
<text x="615.59" y="471.92" font-size="16.6" text-anchor="end">18</text>
<text x="615.59" y="425.68" font-size="16.6" text-anchor="end">24</text>
<text x="615.59" y="379.45" font-size="16.6" text-anchor="end">30</text>
<text transform="translate(575.62,490) rotate(-90)" font-size="17.5" text-anchor="middle">CAT&#160;&#160;activity (U/mgprot)</text>
<text x="626.59" y="636.08" font-size="17" text-anchor="end">10% CCl<tspan dy="3" font-size="11">4</tspan></text>
<text x="662.83" y="639.83" font-size="22.5" text-anchor="middle" style="stroke:none">-</text>
<text x="714.08" y="640.33" font-size="19.5" text-anchor="middle">+</text>
<text x="765.33" y="640.33" font-size="19.5" text-anchor="middle">+</text>
<text x="816.58" y="640.33" font-size="19.5" text-anchor="middle">+</text>
<text x="867.82" y="640.33" font-size="19.5" text-anchor="middle">+</text>
<text x="919.07" y="642.23" font-size="19.5" text-anchor="middle">+</text>
<text x="631.09" y="664.65" font-size="17.5" text-anchor="end">200 mg/kg BD</text>
<text x="714.08" y="664.83" font-size="22.5" text-anchor="middle" style="stroke:none">-</text>
<text x="765.33" y="665.33" font-size="19.5" text-anchor="middle">+</text>
<text x="816.58" y="664.83" font-size="22.5" text-anchor="middle" style="stroke:none">-</text>
<text x="867.82" y="664.83" font-size="22.5" text-anchor="middle" style="stroke:none">-</text>
<text x="919.07" y="666.63" font-size="22.5" text-anchor="middle" style="stroke:none">-</text>
<text x="633.59" y="694.85" font-size="17.5" text-anchor="end">GDK (mg/kg)</text>
<text x="662.83" y="697.03" font-size="22.5" text-anchor="middle" style="stroke:none">-</text>
<text x="714.08" y="697.03" font-size="22.5" text-anchor="middle" style="stroke:none">-</text>
<text x="765.33" y="697.03" font-size="22.5" text-anchor="middle" style="stroke:none">-</text>
<text x="815.28" y="695.58" font-size="17.3" text-anchor="middle">1.17</text>
<text x="866.22" y="695.58" font-size="17.3" text-anchor="middle">2.34</text>
<text x="917.17" y="695.58" font-size="17.3" text-anchor="middle">4.68</text>
</g>
<g id="c7">
<rect x="1111.55" y="480.16" width="33.6" height="124.47" fill="#3a494e"/>
<rect x="1162.5" y="530.89" width="33.6" height="73.75" fill="#d0dbea"/>
<rect x="1213.45" y="507.3" width="33.6" height="97.33" fill="#1a93c1"/>
<rect x="1264.4" y="491.96" width="33.6" height="112.68" fill="#788685"/>
<rect x="1315.35" y="491.96" width="33.6" height="112.68" fill="#6685ab"/>
<rect x="1366.3" y="496.07" width="33.6" height="108.56" fill="#94470a"/>
<g stroke="#161616" stroke-width="2.5" fill="none">
<path d="M1119.35 438.99H1137.35M1119.35 521.53H1137.35M1128.35 438.99V521.53"/>
<path d="M1170.3 513.48H1188.3M1170.3 547.55H1188.3M1179.3 513.48V547.55"/>
<path d="M1221.25 483.16H1239.25M1221.25 531.26H1239.25M1230.25 483.16V531.26"/>
<path d="M1272.2 462.94H1290.2M1272.2 519.66H1290.2M1281.2 462.94V519.66"/>
<path d="M1323.15 471.37H1341.15M1323.15 512.17H1341.15M1332.15 471.37V512.17"/>
<path d="M1374.1 481.1H1392.1M1374.1 511.05H1392.1M1383.1 481.1V511.05"/>
</g>
<g fill="#8a8a8a">
<circle cx="1128.72" cy="424.57" r="3.5"/>
<circle cx="1121.61" cy="433.37" r="3.5"/>
<circle cx="1135.65" cy="439.55" r="3.5"/>
<circle cx="1121.61" cy="492.52" r="3.5"/>
<circle cx="1135.65" cy="497.01" r="3.5"/>
<circle cx="1121.61" cy="515.35" r="3.5"/>
<circle cx="1135.65" cy="515.91" r="3.5"/>
<circle cx="1128.72" cy="524.34" r="3.5"/>
<circle cx="1165.63" cy="505.99" r="3.5"/>
<circle cx="1179.67" cy="509.74" r="3.5"/>
<circle cx="1172.56" cy="527.14" r="3.5"/>
<circle cx="1186.6" cy="526.02" r="3.5"/>
<circle cx="1165.63" cy="538.37" r="3.5"/>
<circle cx="1192.96" cy="538.75" r="3.5"/>
<circle cx="1179.67" cy="541.18" r="3.5"/>
<circle cx="1179.67" cy="557.47" r="3.5"/>
<circle cx="1230.44" cy="461.07" r="3.5"/>
<circle cx="1223.14" cy="493.83" r="3.5"/>
<circle cx="1236.99" cy="496.64" r="3.5"/>
<circle cx="1223.14" cy="509.74" r="3.5"/>
<circle cx="1236.99" cy="509.74" r="3.5"/>
<circle cx="1223.14" cy="524.15" r="3.5"/>
<circle cx="1236.99" cy="525.27" r="3.5"/>
<circle cx="1230.44" cy="537.81" r="3.5"/>
<circle cx="1267.63" cy="460.14" r="3.5"/>
<circle cx="1294.77" cy="462.94" r="3.5"/>
<circle cx="1281.11" cy="465.75" r="3.5"/>
<circle cx="1274.18" cy="488.77" r="3.5"/>
<circle cx="1288.22" cy="489.15" r="3.5"/>
<circle cx="1274.18" cy="511.23" r="3.5"/>
<circle cx="1288.22" cy="514.98" r="3.5"/>
<circle cx="1281.11" cy="537.81" r="3.5"/>
<circle cx="1332.15" cy="456.02" r="3.5"/>
<circle cx="1332.15" cy="480.35" r="3.5"/>
<circle cx="1318.49" cy="488.21" r="3.5"/>
<circle cx="1345.63" cy="488.77" r="3.5"/>
<circle cx="1332.15" cy="491.58" r="3.5"/>
<circle cx="1325.04" cy="500.38" r="3.5"/>
<circle cx="1339.08" cy="502.62" r="3.5"/>
<circle cx="1332.15" cy="527.89" r="3.5"/>
<circle cx="1383.1" cy="474.17" r="3.5"/>
<circle cx="1369.25" cy="485.97" r="3.5"/>
<circle cx="1382.73" cy="484.47" r="3.5"/>
<circle cx="1396.76" cy="491.39" r="3.5"/>
<circle cx="1382.73" cy="495.14" r="3.5"/>
<circle cx="1382.73" cy="505.99" r="3.5"/>
<circle cx="1389.65" cy="513.48" r="3.5"/>
<circle cx="1376.18" cy="518.53" r="3.5"/>
</g>
<path d="M1094.09 372.28V604.63M1085.59 558.4H1094.09M1085.59 512.17H1094.09M1085.59 465.94H1094.09M1085.59 419.71H1094.09M1085.59 373.48H1094.09M1128.35 604.63V615.13M1179.3 604.63V615.13M1230.25 604.63V615.13M1281.2 604.63V615.13M1332.15 604.63V615.13M1383.1 604.63V615.13" stroke="#0a0a0a" stroke-width="2.4" fill="none"/>
<path d="M1085.59 605.53H1418.27" stroke="#0a0a0a" stroke-width="2.6" fill="none"/>
<text x="1081.59" y="610.61" font-size="16.6" text-anchor="end">0</text>
<text x="1081.59" y="564.38" font-size="16.6" text-anchor="end">70</text>
<text x="1081.59" y="518.15" font-size="16.6" text-anchor="end">140</text>
<text x="1081.59" y="471.92" font-size="16.6" text-anchor="end">210</text>
<text x="1081.59" y="425.68" font-size="16.6" text-anchor="end">280</text>
<text x="1081.59" y="379.45" font-size="16.6" text-anchor="end">350</text>
<text x="1179.3" y="486.2" font-size="17.5" text-anchor="middle" letter-spacing="0.6">**</text>
<text x="1281.2" y="442.89" font-size="20" text-anchor="middle" style="stroke-width:0.6px">#</text>
<text x="1332.15" y="440.46" font-size="20" text-anchor="middle" style="stroke-width:0.6px">#</text>
<text transform="translate(1031.82,488.5) rotate(-90)" font-size="17.5" text-anchor="middle">GSH-Px&#160;&#160;activity (U/mgprot)</text>
<text x="1092.59" y="636.08" font-size="17" text-anchor="end">10% CCl<tspan dy="3" font-size="11">4</tspan></text>
<text x="1128.75" y="639.83" font-size="22.5" text-anchor="middle" style="stroke:none">-</text>
<text x="1180" y="640.33" font-size="19.5" text-anchor="middle">+</text>
<text x="1231.25" y="640.33" font-size="19.5" text-anchor="middle">+</text>
<text x="1282.5" y="640.33" font-size="19.5" text-anchor="middle">+</text>
<text x="1333.75" y="640.33" font-size="19.5" text-anchor="middle">+</text>
<text x="1385" y="642.23" font-size="19.5" text-anchor="middle">+</text>
<text x="1097.09" y="664.65" font-size="17.5" text-anchor="end">200 mg/kg BD</text>
<text x="1180" y="664.83" font-size="22.5" text-anchor="middle" style="stroke:none">-</text>
<text x="1231.25" y="665.33" font-size="19.5" text-anchor="middle">+</text>
<text x="1282.5" y="664.83" font-size="22.5" text-anchor="middle" style="stroke:none">-</text>
<text x="1333.75" y="664.83" font-size="22.5" text-anchor="middle" style="stroke:none">-</text>
<text x="1385" y="666.63" font-size="22.5" text-anchor="middle" style="stroke:none">-</text>
<text x="1099.59" y="694.85" font-size="17.5" text-anchor="end">GDK (mg/kg)</text>
<text x="1128.75" y="697.03" font-size="22.5" text-anchor="middle" style="stroke:none">-</text>
<text x="1180" y="697.03" font-size="22.5" text-anchor="middle" style="stroke:none">-</text>
<text x="1231.25" y="697.03" font-size="22.5" text-anchor="middle" style="stroke:none">-</text>
<text x="1281.2" y="695.58" font-size="17.3" text-anchor="middle">1.17</text>
<text x="1332.15" y="695.58" font-size="17.3" text-anchor="middle">2.34</text>
<text x="1383.1" y="695.58" font-size="17.3" text-anchor="middle">4.68</text>
</g>
<g id="c8">
<rect x="1577.86" y="462.94" width="33.6" height="141.69" fill="#3a494e"/>
<rect x="1628.81" y="549.04" width="33.6" height="55.59" fill="#d0dbea"/>
<rect x="1679.75" y="508.8" width="33.6" height="95.83" fill="#1a93c1"/>
<rect x="1730.69" y="499.82" width="33.6" height="104.82" fill="#788685"/>
<rect x="1781.63" y="502.62" width="33.6" height="102.01" fill="#6685ab"/>
<rect x="1832.58" y="498.13" width="33.6" height="106.5" fill="#94470a"/>
<g stroke="#161616" stroke-width="2.5" fill="none">
<path d="M1585.66 426.45H1603.66M1585.66 499.44H1603.66M1594.66 426.45V499.44"/>
<path d="M1636.61 534.63H1654.61M1636.61 564.02H1654.61M1645.61 534.63V564.02"/>
<path d="M1687.55 486.34H1705.55M1687.55 530.33H1705.55M1696.55 486.34V530.33"/>
<path d="M1738.49 472.3H1756.49M1738.49 527.14H1756.49M1747.49 472.3V527.14"/>
<path d="M1789.43 471.93H1807.43M1789.43 531.26H1807.43M1798.43 471.93V531.26"/>
<path d="M1840.38 484.47H1858.38M1840.38 511.23H1858.38M1849.38 484.47V511.23"/>
</g>
<g fill="#8a8a8a">
<circle cx="1594.76" cy="408.29" r="3.5"/>
<circle cx="1594.76" cy="434.49" r="3.5"/>
<circle cx="1594.76" cy="446.66" r="3.5"/>
<circle cx="1587.64" cy="457.33" r="3.5"/>
<circle cx="1601.68" cy="461.07" r="3.5"/>
<circle cx="1594.76" cy="470.06" r="3.5"/>
<circle cx="1601.68" cy="509.74" r="3.5"/>
<circle cx="1587.64" cy="516.29" r="3.5"/>
<circle cx="1645.61" cy="526.58" r="3.5"/>
<circle cx="1645.61" cy="534.07" r="3.5"/>
<circle cx="1631.57" cy="543.43" r="3.5"/>
<circle cx="1659.64" cy="547.17" r="3.5"/>
<circle cx="1645.61" cy="548.11" r="3.5"/>
<circle cx="1645.61" cy="562.71" r="3.5"/>
<circle cx="1659.64" cy="564.39" r="3.5"/>
<circle cx="1631.57" cy="567.76" r="3.5"/>
<circle cx="1696.55" cy="469.12" r="3.5"/>
<circle cx="1682.51" cy="499.07" r="3.5"/>
<circle cx="1696.55" cy="496.26" r="3.5"/>
<circle cx="1710.21" cy="500.94" r="3.5"/>
<circle cx="1696.55" cy="515.73" r="3.5"/>
<circle cx="1710.21" cy="514.98" r="3.5"/>
<circle cx="1696.55" cy="526.58" r="3.5"/>
<circle cx="1696.55" cy="543.05" r="3.5"/>
<circle cx="1740.57" cy="464.44" r="3.5"/>
<circle cx="1754.04" cy="463.88" r="3.5"/>
<circle cx="1754.04" cy="484.47" r="3.5"/>
<circle cx="1740.01" cy="488.77" r="3.5"/>
<circle cx="1746.93" cy="512.54" r="3.5"/>
<circle cx="1733.45" cy="529.95" r="3.5"/>
<circle cx="1760.59" cy="526.58" r="3.5"/>
<circle cx="1746.93" cy="524.71" r="3.5"/>
<circle cx="1805.17" cy="467.62" r="3.5"/>
<circle cx="1791.14" cy="472.86" r="3.5"/>
<circle cx="1805.17" cy="475.48" r="3.5"/>
<circle cx="1791.14" cy="498.88" r="3.5"/>
<circle cx="1805.17" cy="503.56" r="3.5"/>
<circle cx="1798.25" cy="511.98" r="3.5"/>
<circle cx="1791.14" cy="544.36" r="3.5"/>
<circle cx="1805.17" cy="541.93" r="3.5"/>
<circle cx="1849.1" cy="476.05" r="3.5"/>
<circle cx="1848.72" cy="488.77" r="3.5"/>
<circle cx="1835.62" cy="492.33" r="3.5"/>
<circle cx="1862.76" cy="492.33" r="3.5"/>
<circle cx="1848.72" cy="499.44" r="3.5"/>
<circle cx="1848.72" cy="507.87" r="3.5"/>
<circle cx="1835.62" cy="514.42" r="3.5"/>
<circle cx="1862.76" cy="513.85" r="3.5"/>
</g>
<path d="M1560.09 372.28V604.63M1551.59 558.4H1560.09M1551.59 512.17H1560.09M1551.59 465.94H1560.09M1551.59 419.71H1560.09M1551.59 373.48H1560.09M1594.66 604.63V615.13M1645.61 604.63V615.13M1696.55 604.63V615.13M1747.49 604.63V615.13M1798.43 604.63V615.13M1849.38 604.63V615.13" stroke="#0a0a0a" stroke-width="2.4" fill="none"/>
<path d="M1551.59 605.53H1884.27" stroke="#0a0a0a" stroke-width="2.6" fill="none"/>
<text x="1547.59" y="610.61" font-size="16.6" text-anchor="end">0</text>
<text x="1547.59" y="564.38" font-size="16.6" text-anchor="end">12</text>
<text x="1547.59" y="518.15" font-size="16.6" text-anchor="end">24</text>
<text x="1547.59" y="471.92" font-size="16.6" text-anchor="end">36</text>
<text x="1547.59" y="425.68" font-size="16.6" text-anchor="end">48</text>
<text x="1547.59" y="379.45" font-size="16.6" text-anchor="end">60</text>
<text x="1645.61" y="508.28" font-size="17.5" text-anchor="middle" letter-spacing="0.6">**</text>
<text x="1696.55" y="451.31" font-size="20" text-anchor="middle" style="stroke-width:0.6px">#</text>
<text x="1742.44" y="433.91" font-size="20" text-anchor="middle" style="stroke-width:0.6px">##</text>
<text x="1794.69" y="433.53" font-size="20" text-anchor="middle" style="stroke-width:0.6px">##</text>
<text x="1849.38" y="444.2" font-size="20" text-anchor="middle" style="stroke-width:0.6px">##</text>
<text transform="translate(1507.82,489) rotate(-90)" font-size="17.5" text-anchor="middle">GST activity (U/mgprot)</text>
<text x="1558.59" y="636.08" font-size="17" text-anchor="end">10% CCl<tspan dy="3" font-size="11">4</tspan></text>
<text x="1595.06" y="639.83" font-size="22.5" text-anchor="middle" style="stroke:none">-</text>
<text x="1646.31" y="640.33" font-size="19.5" text-anchor="middle">+</text>
<text x="1697.55" y="640.33" font-size="19.5" text-anchor="middle">+</text>
<text x="1748.79" y="640.33" font-size="19.5" text-anchor="middle">+</text>
<text x="1800.03" y="640.33" font-size="19.5" text-anchor="middle">+</text>
<text x="1851.28" y="642.23" font-size="19.5" text-anchor="middle">+</text>
<text x="1563.09" y="664.65" font-size="17.5" text-anchor="end">200 mg/kg BD</text>
<text x="1646.31" y="664.83" font-size="22.5" text-anchor="middle" style="stroke:none">-</text>
<text x="1697.55" y="665.33" font-size="19.5" text-anchor="middle">+</text>
<text x="1748.79" y="664.83" font-size="22.5" text-anchor="middle" style="stroke:none">-</text>
<text x="1800.03" y="664.83" font-size="22.5" text-anchor="middle" style="stroke:none">-</text>
<text x="1851.28" y="666.63" font-size="22.5" text-anchor="middle" style="stroke:none">-</text>
<text x="1565.59" y="694.85" font-size="17.5" text-anchor="end">GDK (mg/kg)</text>
<text x="1595.06" y="697.03" font-size="22.5" text-anchor="middle" style="stroke:none">-</text>
<text x="1646.31" y="697.03" font-size="22.5" text-anchor="middle" style="stroke:none">-</text>
<text x="1697.55" y="697.03" font-size="22.5" text-anchor="middle" style="stroke:none">-</text>
<text x="1747.49" y="695.58" font-size="17.3" text-anchor="middle">1.17</text>
<text x="1798.43" y="695.58" font-size="17.3" text-anchor="middle">2.34</text>
<text x="1849.38" y="695.58" font-size="17.3" text-anchor="middle">4.68</text>
</g>
<g id="c9">
<rect x="179.53" y="885.01" width="33.6" height="69.25" fill="#3a494e"/>
<rect x="230.43" y="808.83" width="33.6" height="145.43" fill="#d0dbea"/>
<rect x="281.33" y="845.7" width="33.6" height="108.56" fill="#1a93c1"/>
<rect x="332.23" y="839.52" width="33.6" height="114.74" fill="#788685"/>
<rect x="383.13" y="838.59" width="33.6" height="115.67" fill="#6685ab"/>
<rect x="434.03" y="818.93" width="33.6" height="135.32" fill="#94470a"/>
<g stroke="#161616" stroke-width="2.5" fill="none">
<path d="M187.33 851.88H205.33M187.33 917.76H205.33M196.33 851.88V917.76"/>
<path d="M238.23 779.81H256.23M238.23 837.28H256.23M247.23 779.81V837.28"/>
<path d="M289.13 815.75H307.13M289.13 876.02H307.13M298.13 815.75V876.02"/>
<path d="M340.03 807.7H358.03M340.03 870.97H358.03M349.03 807.7V870.97"/>
<path d="M390.93 805.46H408.93M390.93 870.41H408.93M399.93 805.46V870.41"/>
<path d="M441.83 789.17H459.83M441.83 849.07H459.83M450.83 789.17V849.07"/>
</g>
<g fill="#8a8a8a">
<circle cx="196.33" cy="828.85" r="3.5"/>
<circle cx="196.33" cy="851.88" r="3.5"/>
<circle cx="189.78" cy="880.7" r="3.5"/>
<circle cx="203.82" cy="879.39" r="3.5"/>
<circle cx="189.78" cy="893.43" r="3.5"/>
<circle cx="203.82" cy="893.05" r="3.5"/>
<circle cx="189.78" cy="925.81" r="3.5"/>
<circle cx="203.82" cy="924.69" r="3.5"/>
<circle cx="253.88" cy="764.84" r="3.5"/>
<circle cx="239.84" cy="769.89" r="3.5"/>
<circle cx="239.84" cy="805.46" r="3.5"/>
<circle cx="253.88" cy="805.46" r="3.5"/>
<circle cx="239.84" cy="821.74" r="3.5"/>
<circle cx="253.88" cy="820.81" r="3.5"/>
<circle cx="246.77" cy="834.47" r="3.5"/>
<circle cx="246.77" cy="845.14" r="3.5"/>
<circle cx="305.06" cy="814.82" r="3.5"/>
<circle cx="291.21" cy="818.19" r="3.5"/>
<circle cx="305.06" cy="822.3" r="3.5"/>
<circle cx="291.21" cy="834.47" r="3.5"/>
<circle cx="305.06" cy="837.28" r="3.5"/>
<circle cx="298.13" cy="864.98" r="3.5"/>
<circle cx="298.13" cy="879.02" r="3.5"/>
<circle cx="298.13" cy="894.74" r="3.5"/>
<circle cx="349.22" cy="795.16" r="3.5"/>
<circle cx="342.3" cy="815.75" r="3.5"/>
<circle cx="356.33" cy="822.3" r="3.5"/>
<circle cx="342.3" cy="824.17" r="3.5"/>
<circle cx="349.22" cy="833.91" r="3.5"/>
<circle cx="349.22" cy="863.85" r="3.5"/>
<circle cx="356.33" cy="877.89" r="3.5"/>
<circle cx="342.3" cy="882.57" r="3.5"/>
<circle cx="393.1" cy="793.67" r="3.5"/>
<circle cx="407.14" cy="792.92" r="3.5"/>
<circle cx="386.55" cy="834.09" r="3.5"/>
<circle cx="400.21" cy="837.28" r="3.5"/>
<circle cx="413.69" cy="835.4" r="3.5"/>
<circle cx="413.69" cy="863.48" r="3.5"/>
<circle cx="400.21" cy="867.79" r="3.5"/>
<circle cx="400.21" cy="879.95" r="3.5"/>
<circle cx="450.65" cy="772.7" r="3.5"/>
<circle cx="450.65" cy="791.79" r="3.5"/>
<circle cx="450.65" cy="804.52" r="3.5"/>
<circle cx="443.72" cy="814.44" r="3.5"/>
<circle cx="457.57" cy="818.56" r="3.5"/>
<circle cx="450.65" cy="842.52" r="3.5"/>
<circle cx="450.65" cy="850.38" r="3.5"/>
<circle cx="450.65" cy="858.8" r="3.5"/>
</g>
<path d="M162.09 721.9V954.26M153.59 908.03H162.09M153.59 861.8H162.09M153.59 815.56H162.09M153.59 769.33H162.09M153.59 723.1H162.09M196.33 954.26V964.76M247.23 954.26V964.76M298.13 954.26V964.76M349.03 954.26V964.76M399.93 954.26V964.76M450.83 954.26V964.76" stroke="#0a0a0a" stroke-width="2.4" fill="none"/>
<path d="M153.59 955.16H486.27" stroke="#0a0a0a" stroke-width="2.6" fill="none"/>
<text x="149.59" y="960.23" font-size="16.6" text-anchor="end">0.0</text>
<text x="149.59" y="914" font-size="16.6" text-anchor="end">0.2</text>
<text x="149.59" y="867.77" font-size="16.6" text-anchor="end">0.4</text>
<text x="149.59" y="821.54" font-size="16.6" text-anchor="end">0.6</text>
<text x="149.59" y="775.31" font-size="16.6" text-anchor="end">0.8</text>
<text x="149.59" y="729.08" font-size="16.6" text-anchor="end">1.0</text>
<text x="247.23" y="748.22" font-size="17.5" text-anchor="middle" letter-spacing="0.6">*</text>
<text x="399.93" y="771.25" font-size="17.5" text-anchor="middle" letter-spacing="0.6">**</text>
<text x="450.83" y="754.78" font-size="17.5" text-anchor="middle" letter-spacing="0.6">**</text>
<text transform="translate(104.62,839) rotate(-90)" font-size="17.5" text-anchor="middle">POD (U/mgprot)</text>
<text transform="translate(60.55,836.7) rotate(-90)" font-size="33" text-anchor="middle">Liver</text>
<text x="160.59" y="985.71" font-size="17" text-anchor="end">10% CCl<tspan dy="3" font-size="11">4</tspan></text>
<text x="196.73" y="989.45" font-size="22.5" text-anchor="middle" style="stroke:none">-</text>
<text x="247.93" y="989.95" font-size="19.5" text-anchor="middle">+</text>
<text x="299.13" y="989.95" font-size="19.5" text-anchor="middle">+</text>
<text x="350.33" y="989.95" font-size="19.5" text-anchor="middle">+</text>
<text x="401.53" y="989.95" font-size="19.5" text-anchor="middle">+</text>
<text x="452.73" y="991.85" font-size="19.5" text-anchor="middle">+</text>
<text x="165.09" y="1014.28" font-size="17.5" text-anchor="end">200 mg/kg BD</text>
<text x="247.93" y="1014.45" font-size="22.5" text-anchor="middle" style="stroke:none">-</text>
<text x="299.13" y="1014.95" font-size="19.5" text-anchor="middle">+</text>
<text x="350.33" y="1014.45" font-size="22.5" text-anchor="middle" style="stroke:none">-</text>
<text x="401.53" y="1014.45" font-size="22.5" text-anchor="middle" style="stroke:none">-</text>
<text x="452.73" y="1016.25" font-size="22.5" text-anchor="middle" style="stroke:none">-</text>
<text x="167.59" y="1044.48" font-size="17.5" text-anchor="end">GDK (mg/kg)</text>
<text x="196.73" y="1046.65" font-size="22.5" text-anchor="middle" style="stroke:none">-</text>
<text x="247.93" y="1046.65" font-size="22.5" text-anchor="middle" style="stroke:none">-</text>
<text x="299.13" y="1046.65" font-size="22.5" text-anchor="middle" style="stroke:none">-</text>
<text x="349.03" y="1045.21" font-size="17.3" text-anchor="middle">1.17</text>
<text x="399.93" y="1045.21" font-size="17.3" text-anchor="middle">2.34</text>
<text x="450.83" y="1045.21" font-size="17.3" text-anchor="middle">4.68</text>
</g>
<g id="c10">
<rect x="645.63" y="841.58" width="33.6" height="112.68" fill="#3a494e"/>
<rect x="696.58" y="908.96" width="33.6" height="45.3" fill="#d0dbea"/>
<rect x="747.53" y="893.43" width="33.6" height="60.83" fill="#1a93c1"/>
<rect x="798.48" y="881.26" width="33.6" height="73" fill="#788685"/>
<rect x="849.42" y="878.45" width="33.6" height="75.8" fill="#6685ab"/>
<rect x="900.37" y="885.94" width="33.6" height="68.32" fill="#94470a"/>
<g stroke="#161616" stroke-width="2.5" fill="none">
<path d="M653.43 808.64H671.43M653.43 873.21H671.43M662.43 808.64V873.21"/>
<path d="M704.38 895.86H722.38M704.38 922.07H722.38M713.38 895.86V922.07"/>
<path d="M755.33 879.39H773.33M755.33 906.16H773.33M764.33 879.39V906.16"/>
<path d="M806.28 864.42H824.28M806.28 897.55H824.28M815.28 864.42V897.55"/>
<path d="M857.22 865.73H875.22M857.22 890.99H875.22M866.22 865.73V890.99"/>
<path d="M908.17 879.39H926.17M908.17 893.05H926.17M917.17 879.39V893.05"/>
</g>
<g fill="#8a8a8a">
<circle cx="662.71" cy="769.89" r="3.5"/>
<circle cx="662.15" cy="826.42" r="3.5"/>
<circle cx="662.15" cy="837.84" r="3.5"/>
<circle cx="648.68" cy="854.68" r="3.5"/>
<circle cx="657.47" cy="857.87" r="3.5"/>
<circle cx="666.83" cy="860.67" r="3.5"/>
<circle cx="675.81" cy="860.3" r="3.5"/>
<circle cx="648.68" cy="862.17" r="3.5"/>
<circle cx="713.1" cy="890.99" r="3.5"/>
<circle cx="713.1" cy="900.91" r="3.5"/>
<circle cx="699.62" cy="902.79" r="3.5"/>
<circle cx="726.95" cy="902.23" r="3.5"/>
<circle cx="706.55" cy="911.21" r="3.5"/>
<circle cx="720.21" cy="910.83" r="3.5"/>
<circle cx="706.55" cy="928.43" r="3.5"/>
<circle cx="720.21" cy="928.43" r="3.5"/>
<circle cx="777.8" cy="878.45" r="3.5"/>
<circle cx="750.48" cy="880.89" r="3.5"/>
<circle cx="764.14" cy="884.63" r="3.5"/>
<circle cx="777.8" cy="887.81" r="3.5"/>
<circle cx="750.48" cy="893.43" r="3.5"/>
<circle cx="777.8" cy="896.61" r="3.5"/>
<circle cx="764.14" cy="898.48" r="3.5"/>
<circle cx="764.14" cy="921.13" r="3.5"/>
<circle cx="808.07" cy="860.67" r="3.5"/>
<circle cx="822.11" cy="860.3" r="3.5"/>
<circle cx="815" cy="874.15" r="3.5"/>
<circle cx="801.52" cy="880.89" r="3.5"/>
<circle cx="815" cy="885.01" r="3.5"/>
<circle cx="828.1" cy="885.01" r="3.5"/>
<circle cx="815" cy="890.99" r="3.5"/>
<circle cx="815" cy="911.21" r="3.5"/>
<circle cx="852.56" cy="862.17" r="3.5"/>
<circle cx="879.7" cy="864.79" r="3.5"/>
<circle cx="866.22" cy="869.1" r="3.5"/>
<circle cx="852.56" cy="880.7" r="3.5"/>
<circle cx="879.7" cy="880.7" r="3.5"/>
<circle cx="866.22" cy="885.94" r="3.5"/>
<circle cx="879.7" cy="890.99" r="3.5"/>
<circle cx="852.56" cy="894.74" r="3.5"/>
<circle cx="930.74" cy="878.45" r="3.5"/>
<circle cx="910.15" cy="880.7" r="3.5"/>
<circle cx="923.63" cy="881.26" r="3.5"/>
<circle cx="916.7" cy="882.76" r="3.5"/>
<circle cx="903.23" cy="886.88" r="3.5"/>
<circle cx="930.74" cy="886.88" r="3.5"/>
<circle cx="916.7" cy="889.68" r="3.5"/>
<circle cx="916.7" cy="901.85" r="3.5"/>
</g>
<path d="M628.09 721.9V954.26M619.59 908.03H628.09M619.59 861.8H628.09M619.59 815.56H628.09M619.59 769.33H628.09M619.59 723.1H628.09M662.43 954.26V964.76M713.38 954.26V964.76M764.33 954.26V964.76M815.28 954.26V964.76M866.22 954.26V964.76M917.17 954.26V964.76" stroke="#0a0a0a" stroke-width="2.4" fill="none"/>
<path d="M619.59 955.16H952.27" stroke="#0a0a0a" stroke-width="2.6" fill="none"/>
<text x="615.59" y="960.23" font-size="16.6" text-anchor="end">0.0</text>
<text x="615.59" y="914" font-size="16.6" text-anchor="end">0.5</text>
<text x="615.59" y="867.77" font-size="16.6" text-anchor="end">1.0</text>
<text x="615.59" y="821.54" font-size="16.6" text-anchor="end">1.5</text>
<text x="615.59" y="775.31" font-size="16.6" text-anchor="end">2.0</text>
<text x="615.59" y="729.08" font-size="16.6" text-anchor="end">2.5</text>
<text x="713.38" y="874.57" font-size="17.5" text-anchor="middle" letter-spacing="0.6">**</text>
<text x="764.33" y="859.22" font-size="17.5" text-anchor="middle" letter-spacing="0.6">*</text>
<text x="917.17" y="859.22" font-size="17.5" text-anchor="middle" letter-spacing="0.6">*</text>
<text transform="translate(570.12,839) rotate(-90)" font-size="17.5" text-anchor="middle">TAOC (mM)</text>
<text transform="translate(538.81,851.5) rotate(-90)" font-size="32" text-anchor="middle">Serum</text>
<text x="626.59" y="985.71" font-size="17" text-anchor="end">10% CCl<tspan dy="3" font-size="11">4</tspan></text>
<text x="662.83" y="989.45" font-size="22.5" text-anchor="middle" style="stroke:none">-</text>
<text x="714.08" y="989.95" font-size="19.5" text-anchor="middle">+</text>
<text x="765.33" y="989.95" font-size="19.5" text-anchor="middle">+</text>
<text x="816.58" y="989.95" font-size="19.5" text-anchor="middle">+</text>
<text x="867.82" y="989.95" font-size="19.5" text-anchor="middle">+</text>
<text x="919.07" y="991.85" font-size="19.5" text-anchor="middle">+</text>
<text x="631.09" y="1014.28" font-size="17.5" text-anchor="end">200 mg/kg BD</text>
<text x="714.08" y="1014.45" font-size="22.5" text-anchor="middle" style="stroke:none">-</text>
<text x="765.33" y="1014.95" font-size="19.5" text-anchor="middle">+</text>
<text x="816.58" y="1014.45" font-size="22.5" text-anchor="middle" style="stroke:none">-</text>
<text x="867.82" y="1014.45" font-size="22.5" text-anchor="middle" style="stroke:none">-</text>
<text x="919.07" y="1016.25" font-size="22.5" text-anchor="middle" style="stroke:none">-</text>
<text x="633.59" y="1044.48" font-size="17.5" text-anchor="end">GDK (mg/kg)</text>
<text x="662.83" y="1046.65" font-size="22.5" text-anchor="middle" style="stroke:none">-</text>
<text x="714.08" y="1046.65" font-size="22.5" text-anchor="middle" style="stroke:none">-</text>
<text x="765.33" y="1046.65" font-size="22.5" text-anchor="middle" style="stroke:none">-</text>
<text x="815.28" y="1045.21" font-size="17.3" text-anchor="middle">1.17</text>
<text x="866.22" y="1045.21" font-size="17.3" text-anchor="middle">2.34</text>
<text x="917.17" y="1045.21" font-size="17.3" text-anchor="middle">4.68</text>
</g>
<g id="c11">
<rect x="1111.55" y="803.02" width="33.6" height="151.23" fill="#3a494e"/>
<rect x="1162.5" y="868.72" width="33.6" height="85.54" fill="#d0dbea"/>
<rect x="1213.45" y="831.1" width="33.6" height="123.16" fill="#1a93c1"/>
<rect x="1264.4" y="848.13" width="33.6" height="106.13" fill="#788685"/>
<rect x="1315.35" y="839.52" width="33.6" height="114.74" fill="#6685ab"/>
<rect x="1366.3" y="843.45" width="33.6" height="110.81" fill="#94470a"/>
<g stroke="#161616" stroke-width="2.5" fill="none">
<path d="M1119.35 781.13H1137.35M1119.35 824.74H1137.35M1128.35 781.13V824.74"/>
<path d="M1170.3 848.13H1188.3M1170.3 887.81H1188.3M1179.3 848.13V887.81"/>
<path d="M1221.25 815.38H1239.25M1221.25 847.01H1239.25M1230.25 815.38V847.01"/>
<path d="M1272.2 827.92H1290.2M1272.2 868.16H1290.2M1281.2 827.92V868.16"/>
<path d="M1323.15 825.48H1341.15M1323.15 853.19H1341.15M1332.15 825.48V853.19"/>
<path d="M1374.1 828.85H1392.1M1374.1 858.8H1392.1M1383.1 828.85V858.8"/>
</g>
<g fill="#8a8a8a">
<circle cx="1128.72" cy="768.02" r="3.5"/>
<circle cx="1128.72" cy="778.32" r="3.5"/>
<circle cx="1128.72" cy="796.47" r="3.5"/>
<circle cx="1121.61" cy="806.95" r="3.5"/>
<circle cx="1135.65" cy="808.64" r="3.5"/>
<circle cx="1121.61" cy="814.25" r="3.5"/>
<circle cx="1135.65" cy="818.56" r="3.5"/>
<circle cx="1128.72" cy="833.53" r="3.5"/>
<circle cx="1179.67" cy="836.34" r="3.5"/>
<circle cx="1179.67" cy="849.07" r="3.5"/>
<circle cx="1186.6" cy="861.98" r="3.5"/>
<circle cx="1172.56" cy="865.91" r="3.5"/>
<circle cx="1186.6" cy="869.47" r="3.5"/>
<circle cx="1179.67" cy="878.45" r="3.5"/>
<circle cx="1179.67" cy="886.88" r="3.5"/>
<circle cx="1179.67" cy="896.8" r="3.5"/>
<circle cx="1234.74" cy="805.46" r="3.5"/>
<circle cx="1225.38" cy="812.01" r="3.5"/>
<circle cx="1230.06" cy="827.54" r="3.5"/>
<circle cx="1216.4" cy="836.72" r="3.5"/>
<circle cx="1225.38" cy="838.77" r="3.5"/>
<circle cx="1234.74" cy="839.52" r="3.5"/>
<circle cx="1243.73" cy="837.84" r="3.5"/>
<circle cx="1230.06" cy="852.25" r="3.5"/>
<circle cx="1281.11" cy="811.63" r="3.5"/>
<circle cx="1274.18" cy="839.15" r="3.5"/>
<circle cx="1288.22" cy="839.71" r="3.5"/>
<circle cx="1281.11" cy="848.13" r="3.5"/>
<circle cx="1267.63" cy="851.31" r="3.5"/>
<circle cx="1294.77" cy="854.12" r="3.5"/>
<circle cx="1281.11" cy="858.43" r="3.5"/>
<circle cx="1281.11" cy="881.82" r="3.5"/>
<circle cx="1332.15" cy="818.19" r="3.5"/>
<circle cx="1325.04" cy="828.29" r="3.5"/>
<circle cx="1339.08" cy="829.23" r="3.5"/>
<circle cx="1325.04" cy="839.15" r="3.5"/>
<circle cx="1339.08" cy="839.71" r="3.5"/>
<circle cx="1325.04" cy="848.51" r="3.5"/>
<circle cx="1339.08" cy="851.31" r="3.5"/>
<circle cx="1332.15" cy="861.23" r="3.5"/>
<circle cx="1383.1" cy="818.19" r="3.5"/>
<circle cx="1369.25" cy="837.28" r="3.5"/>
<circle cx="1396.76" cy="836.34" r="3.5"/>
<circle cx="1382.73" cy="839.71" r="3.5"/>
<circle cx="1369.25" cy="845.7" r="3.5"/>
<circle cx="1396.76" cy="849.07" r="3.5"/>
<circle cx="1389.65" cy="859.18" r="3.5"/>
<circle cx="1376.18" cy="865.35" r="3.5"/>
</g>
<path d="M1094.09 721.9V954.26M1085.59 908.03H1094.09M1085.59 861.8H1094.09M1085.59 815.56H1094.09M1085.59 769.33H1094.09M1085.59 723.1H1094.09M1128.35 954.26V964.76M1179.3 954.26V964.76M1230.25 954.26V964.76M1281.2 954.26V964.76M1332.15 954.26V964.76M1383.1 954.26V964.76" stroke="#0a0a0a" stroke-width="2.4" fill="none"/>
<path d="M1085.59 955.16H1418.27" stroke="#0a0a0a" stroke-width="2.6" fill="none"/>
<text x="1081.59" y="960.23" font-size="16.6" text-anchor="end">0</text>
<text x="1081.59" y="914" font-size="16.6" text-anchor="end">15</text>
<text x="1081.59" y="867.77" font-size="16.6" text-anchor="end">30</text>
<text x="1081.59" y="821.54" font-size="16.6" text-anchor="end">45</text>
<text x="1081.59" y="775.31" font-size="16.6" text-anchor="end">60</text>
<text x="1081.59" y="729.08" font-size="16.6" text-anchor="end">75</text>
<text x="1179.3" y="822.16" font-size="17.5" text-anchor="middle" letter-spacing="0.6">**</text>
<text x="1230.25" y="756.39" font-size="20" text-anchor="middle" style="stroke-width:0.6px">##</text>
<text x="1230.25" y="791.27" font-size="17.5" text-anchor="middle" letter-spacing="0.6">*</text>
<text x="1281.2" y="803.44" font-size="17.5" text-anchor="middle" letter-spacing="0.6">**</text>
<text x="1332.15" y="781.66" font-size="20" text-anchor="middle" style="stroke-width:0.6px">#</text>
<text x="1332.15" y="809.06" font-size="17.5" text-anchor="middle" letter-spacing="0.6">**</text>
<text x="1383.1" y="812.8" font-size="17.5" text-anchor="middle" letter-spacing="0.6">**</text>
<text transform="translate(1040.32,839) rotate(-90)" font-size="17.5" text-anchor="middle">T-SOD&#160;&#160;activity (U/L)</text>
<text transform="translate(1017.81,851.5) rotate(-90)" font-size="32" text-anchor="middle">Serum</text>
<text x="1092.59" y="985.71" font-size="17" text-anchor="end">10% CCl<tspan dy="3" font-size="11">4</tspan></text>
<text x="1128.75" y="989.45" font-size="22.5" text-anchor="middle" style="stroke:none">-</text>
<text x="1180" y="989.95" font-size="19.5" text-anchor="middle">+</text>
<text x="1231.25" y="989.95" font-size="19.5" text-anchor="middle">+</text>
<text x="1282.5" y="989.95" font-size="19.5" text-anchor="middle">+</text>
<text x="1333.75" y="989.95" font-size="19.5" text-anchor="middle">+</text>
<text x="1385" y="991.85" font-size="19.5" text-anchor="middle">+</text>
<text x="1097.09" y="1014.28" font-size="17.5" text-anchor="end">200 mg/kg BD</text>
<text x="1180" y="1014.45" font-size="22.5" text-anchor="middle" style="stroke:none">-</text>
<text x="1231.25" y="1014.95" font-size="19.5" text-anchor="middle">+</text>
<text x="1282.5" y="1014.45" font-size="22.5" text-anchor="middle" style="stroke:none">-</text>
<text x="1333.75" y="1014.45" font-size="22.5" text-anchor="middle" style="stroke:none">-</text>
<text x="1385" y="1016.25" font-size="22.5" text-anchor="middle" style="stroke:none">-</text>
<text x="1099.59" y="1044.48" font-size="17.5" text-anchor="end">GDK (mg/kg)</text>
<text x="1128.75" y="1046.65" font-size="22.5" text-anchor="middle" style="stroke:none">-</text>
<text x="1180" y="1046.65" font-size="22.5" text-anchor="middle" style="stroke:none">-</text>
<text x="1231.25" y="1046.65" font-size="22.5" text-anchor="middle" style="stroke:none">-</text>
<text x="1281.2" y="1045.21" font-size="17.3" text-anchor="middle">1.17</text>
<text x="1332.15" y="1045.21" font-size="17.3" text-anchor="middle">2.34</text>
<text x="1383.1" y="1045.21" font-size="17.3" text-anchor="middle">4.68</text>
</g>
<g id="c12">
<rect x="1577.86" y="866.5" width="33.6" height="99.76" fill="#3a494e"/>
<rect x="1628.81" y="921.34" width="33.6" height="44.92" fill="#d0dbea"/>
<rect x="1679.75" y="915.16" width="33.6" height="51.1" fill="#1a93c1"/>
<rect x="1730.69" y="887.09" width="33.6" height="79.17" fill="#788685"/>
<rect x="1781.63" y="865.75" width="33.6" height="100.51" fill="#6685ab"/>
<rect x="1832.58" y="814.09" width="33.6" height="152.17" fill="#94470a"/>
<g stroke="#161616" stroke-width="2.5" fill="none">
<path d="M1585.66 832.43H1603.66M1585.66 898.88H1603.66M1594.66 832.43V898.88"/>
<path d="M1636.61 903.18H1654.61M1636.61 939.49H1654.61M1645.61 903.18V939.49"/>
<path d="M1687.55 897.94H1705.55M1687.55 932.57H1705.55M1696.55 897.94V932.57"/>
<path d="M1738.49 857.7H1756.49M1738.49 915.72H1756.49M1747.49 857.7V915.72"/>
<path d="M1789.43 833.37H1807.43M1789.43 897.57H1807.43M1798.43 833.37V897.57"/>
<path d="M1840.38 776.28H1858.38M1840.38 852.08H1858.38M1849.38 776.28V852.08"/>
</g>
<g fill="#8a8a8a">
<circle cx="1594.76" cy="818.77" r="3.5"/>
<circle cx="1594.76" cy="830" r="3.5"/>
<circle cx="1594.76" cy="844.22" r="3.5"/>
<circle cx="1594.76" cy="856.76" r="3.5"/>
<circle cx="1594.76" cy="880.16" r="3.5"/>
<circle cx="1594.76" cy="896.44" r="3.5"/>
<circle cx="1581.47" cy="901.68" r="3.5"/>
<circle cx="1608.23" cy="901.68" r="3.5"/>
<circle cx="1631.57" cy="900.75" r="3.5"/>
<circle cx="1659.64" cy="905.05" r="3.5"/>
<circle cx="1645.61" cy="907.86" r="3.5"/>
<circle cx="1638.49" cy="917.22" r="3.5"/>
<circle cx="1652.53" cy="917.22" r="3.5"/>
<circle cx="1638.49" cy="934.81" r="3.5"/>
<circle cx="1652.53" cy="937.25" r="3.5"/>
<circle cx="1645.61" cy="951.66" r="3.5"/>
<circle cx="1696.55" cy="886.71" r="3.5"/>
<circle cx="1696.55" cy="901.68" r="3.5"/>
<circle cx="1682.51" cy="908.61" r="3.5"/>
<circle cx="1710.21" cy="911.42" r="3.5"/>
<circle cx="1696.55" cy="913.85" r="3.5"/>
<circle cx="1696.55" cy="931.63" r="3.5"/>
<circle cx="1682.51" cy="935.38" r="3.5"/>
<circle cx="1710.21" cy="934.44" r="3.5"/>
<circle cx="1754.04" cy="847.97" r="3.5"/>
<circle cx="1740.01" cy="853.58" r="3.5"/>
<circle cx="1746.93" cy="869.49" r="3.5"/>
<circle cx="1746.93" cy="878.85" r="3.5"/>
<circle cx="1746.93" cy="893.26" r="3.5"/>
<circle cx="1740.01" cy="911.04" r="3.5"/>
<circle cx="1754.04" cy="912.91" r="3.5"/>
<circle cx="1746.93" cy="926.58" r="3.5"/>
<circle cx="1798.25" cy="802.11" r="3.5"/>
<circle cx="1798.25" cy="838.05" r="3.5"/>
<circle cx="1798.25" cy="859.01" r="3.5"/>
<circle cx="1791.14" cy="873.23" r="3.5"/>
<circle cx="1805.17" cy="877.91" r="3.5"/>
<circle cx="1791.14" cy="882.03" r="3.5"/>
<circle cx="1805.17" cy="888.58" r="3.5"/>
<circle cx="1798.25" cy="902.25" r="3.5"/>
<circle cx="1849.1" cy="746.71" r="3.5"/>
<circle cx="1856.21" cy="787.51" r="3.5"/>
<circle cx="1842.17" cy="793.13" r="3.5"/>
<circle cx="1849.1" cy="809.97" r="3.5"/>
<circle cx="1856.21" cy="831.87" r="3.5"/>
<circle cx="1842.17" cy="837.48" r="3.5"/>
<circle cx="1856.21" cy="840.48" r="3.5"/>
<circle cx="1849.1" cy="866.5" r="3.5"/>
</g>
<path d="M1560.09 733.9V966.26M1551.59 920.03H1560.09M1551.59 873.8H1560.09M1551.59 827.56H1560.09M1551.59 781.33H1560.09M1551.59 735.1H1560.09M1594.66 966.26V976.76M1645.61 966.26V976.76M1696.55 966.26V976.76M1747.49 966.26V976.76M1798.43 966.26V976.76M1849.38 966.26V976.76" stroke="#0a0a0a" stroke-width="2.4" fill="none"/>
<path d="M1551.59 967.16H1884.27" stroke="#0a0a0a" stroke-width="2.6" fill="none"/>
<text x="1547.59" y="972.23" font-size="16.6" text-anchor="end">0</text>
<text x="1547.59" y="926" font-size="16.6" text-anchor="end">200</text>
<text x="1547.59" y="879.77" font-size="16.6" text-anchor="end">400</text>
<text x="1547.59" y="833.54" font-size="16.6" text-anchor="end">600</text>
<text x="1547.59" y="787.31" font-size="16.6" text-anchor="end">800</text>
<text x="1547.59" y="741.08" font-size="16.6" text-anchor="end">1000</text>
<text x="1645.61" y="888.44" font-size="17.5" text-anchor="middle" letter-spacing="0.6">**</text>
<text x="1696.55" y="871.03" font-size="17.5" text-anchor="middle" letter-spacing="0.6">*</text>
<text x="1798.43" y="783.37" font-size="20" text-anchor="middle" style="stroke-width:0.6px">##</text>
<text x="1849.38" y="737.76" font-size="17.5" text-anchor="middle" letter-spacing="0.6">*</text>
<text x="1849.38" y="719.17" font-size="20" text-anchor="middle" style="stroke-width:0.6px">##</text>
<text transform="translate(1488.32,851.5) rotate(-90)" font-size="17.5" text-anchor="middle">GSH&#160;&#160;content (U/mL)</text>
<text transform="translate(1456.51,851) rotate(-90)" font-size="32" text-anchor="middle">Serum</text>
<text x="1558.59" y="997.71" font-size="17" text-anchor="end">10% CCl<tspan dy="3" font-size="11">4</tspan></text>
<text x="1595.06" y="1001.45" font-size="22.5" text-anchor="middle" style="stroke:none">-</text>
<text x="1646.31" y="1001.95" font-size="19.5" text-anchor="middle">+</text>
<text x="1697.55" y="1001.95" font-size="19.5" text-anchor="middle">+</text>
<text x="1748.79" y="1001.95" font-size="19.5" text-anchor="middle">+</text>
<text x="1800.03" y="1001.95" font-size="19.5" text-anchor="middle">+</text>
<text x="1851.28" y="1003.85" font-size="19.5" text-anchor="middle">+</text>
<text x="1563.09" y="1026.28" font-size="17.5" text-anchor="end">200 mg/kg BD</text>
<text x="1646.31" y="1026.45" font-size="22.5" text-anchor="middle" style="stroke:none">-</text>
<text x="1697.55" y="1026.95" font-size="19.5" text-anchor="middle">+</text>
<text x="1748.79" y="1026.45" font-size="22.5" text-anchor="middle" style="stroke:none">-</text>
<text x="1800.03" y="1026.45" font-size="22.5" text-anchor="middle" style="stroke:none">-</text>
<text x="1851.28" y="1028.25" font-size="22.5" text-anchor="middle" style="stroke:none">-</text>
<text x="1565.59" y="1056.48" font-size="17.5" text-anchor="end">GDK (mg/kg)</text>
<text x="1595.06" y="1058.65" font-size="22.5" text-anchor="middle" style="stroke:none">-</text>
<text x="1646.31" y="1058.65" font-size="22.5" text-anchor="middle" style="stroke:none">-</text>
<text x="1697.55" y="1058.65" font-size="22.5" text-anchor="middle" style="stroke:none">-</text>
<text x="1747.49" y="1057.21" font-size="17.3" text-anchor="middle">1.17</text>
<text x="1798.43" y="1057.21" font-size="17.3" text-anchor="middle">2.34</text>
<text x="1849.38" y="1057.21" font-size="17.3" text-anchor="middle">4.68</text>
</g>
<g id="c13">
<rect x="375.1" y="1233.16" width="33.6" height="88.53" fill="#3a494e"/>
<rect x="426.19" y="1150.8" width="33.6" height="170.89" fill="#d0dbea"/>
<rect x="477.28" y="1150.8" width="33.6" height="170.89" fill="#1a93c1"/>
<rect x="528.38" y="1313.08" width="33.6" height="8.61" fill="#788685"/>
<rect x="579.47" y="1277.71" width="33.6" height="43.99" fill="#6685ab"/>
<rect x="630.56" y="1265.91" width="33.6" height="55.78" fill="#94470a"/>
<g stroke="#161616" stroke-width="2.5" fill="none">
<path d="M382.9 1221.56H400.9M382.9 1244.02H400.9M391.9 1221.56V1244.02"/>
<path d="M433.99 1124.6H451.99M433.99 1176.63H451.99M442.99 1124.6V1176.63"/>
<path d="M485.08 1107.75H503.08M485.08 1193.29H503.08M494.08 1107.75V1193.29"/>
<path d="M536.18 1312.71H554.18M536.18 1315.14H554.18M545.18 1312.71V1315.14"/>
<path d="M587.27 1268.16H605.27M587.27 1286.88H605.27M596.27 1268.16V1286.88"/>
<path d="M638.36 1262.73H656.36M638.36 1268.72H656.36M647.36 1262.73V1268.72"/>
</g>
<g fill="#8a8a8a">
<circle cx="384.79" cy="1224.74" r="3.5"/>
<circle cx="398.82" cy="1228.48" r="3.5"/>
<circle cx="391.9" cy="1245.33" r="3.5"/>
<circle cx="435.5" cy="1134.89" r="3.5"/>
<circle cx="449.54" cy="1136.77" r="3.5"/>
<circle cx="442.62" cy="1180.75" r="3.5"/>
<circle cx="494.18" cy="1103.45" r="3.5"/>
<circle cx="494.18" cy="1161.1" r="3.5"/>
<circle cx="494.18" cy="1187.3" r="3.5"/>
<circle cx="531.61" cy="1314.58" r="3.5"/>
<circle cx="545.08" cy="1312.71" r="3.5"/>
<circle cx="558.75" cy="1313.64" r="3.5"/>
<circle cx="596.36" cy="1266.85" r="3.5"/>
<circle cx="589.62" cy="1283.13" r="3.5"/>
<circle cx="603.29" cy="1282.76" r="3.5"/>
<circle cx="634.16" cy="1269.66" r="3.5"/>
<circle cx="647.64" cy="1263.67" r="3.5"/>
<circle cx="661.3" cy="1265.54" r="3.5"/>
</g>
<path d="M357.48 1087.28V1321.69M348.98 1275.05H357.48M348.98 1228.41H357.48M348.98 1181.76H357.48M348.98 1135.12H357.48M348.98 1088.48H357.48M391.9 1321.69V1332.19M442.99 1321.69V1332.19M494.08 1321.69V1332.19M545.18 1321.69V1332.19M596.27 1321.69V1332.19M647.36 1321.69V1332.19" stroke="#0a0a0a" stroke-width="2.4" fill="none"/>
<path d="M348.98 1322.59H683.15" stroke="#0a0a0a" stroke-width="2.6" fill="none"/>
<text x="344.98" y="1327.67" font-size="16.6" text-anchor="end">0.0</text>
<text x="344.98" y="1281.02" font-size="16.6" text-anchor="end">0.5</text>
<text x="344.98" y="1234.38" font-size="16.6" text-anchor="end">1.0</text>
<text x="344.98" y="1187.74" font-size="16.6" text-anchor="end">1.5</text>
<text x="344.98" y="1141.1" font-size="16.6" text-anchor="end">2.0</text>
<text x="344.98" y="1094.45" font-size="16.6" text-anchor="end">2.5</text>
<text x="442.99" y="1124.46" font-size="17.5" text-anchor="middle" letter-spacing="0.6">**</text>
<text x="494.08" y="1101.06" font-size="17.5" text-anchor="middle" letter-spacing="0.6">**</text>
<text x="545.18" y="1303.88" font-size="20" text-anchor="middle" style="stroke-width:0.6px">**##</text>
<text x="596.27" y="1257.09" font-size="20" text-anchor="middle" style="stroke-width:0.6px">##</text>
<text x="647.36" y="1250.54" font-size="20" text-anchor="middle" style="stroke-width:0.6px">##</text>
<text transform="translate(278.64,1206.5) rotate(-90)" font-size="16.7" text-anchor="middle">Keap1</text>
<text transform="translate(300.22,1204) rotate(-90)" font-size="17.5" text-anchor="middle">mRNA relatively expression</text>
<text x="360.28" y="1355.32" font-size="17.8" text-anchor="end">10% CCl<tspan dx="1.5" font-size="11">4</tspan></text>
<text x="392.3" y="1355.69" font-size="22.5" text-anchor="middle" style="stroke:none">-</text>
<text x="443.69" y="1356.19" font-size="19.5" text-anchor="middle">+</text>
<text x="495.08" y="1356.19" font-size="19.5" text-anchor="middle">+</text>
<text x="546.48" y="1356.19" font-size="19.5" text-anchor="middle">+</text>
<text x="597.87" y="1356.19" font-size="19.5" text-anchor="middle">+</text>
<text x="649.26" y="1358.09" font-size="19.5" text-anchor="middle">+</text>
<text x="360.48" y="1381.21" font-size="17.5" text-anchor="end">200 mg/kg BD</text>
<text x="392.3" y="1381.39" font-size="22.5" text-anchor="middle" style="stroke:none">-</text>
<text x="443.69" y="1381.39" font-size="22.5" text-anchor="middle" style="stroke:none">-</text>
<text x="495.08" y="1381.89" font-size="19.5" text-anchor="middle">+</text>
<text x="546.48" y="1381.39" font-size="22.5" text-anchor="middle" style="stroke:none">-</text>
<text x="597.87" y="1381.39" font-size="22.5" text-anchor="middle" style="stroke:none">-</text>
<text x="649.26" y="1383.19" font-size="22.5" text-anchor="middle" style="stroke:none">-</text>
<text x="362.98" y="1411.11" font-size="17.5" text-anchor="end">GDK (mg/kg)</text>
<text x="392.3" y="1413.99" font-size="22.5" text-anchor="middle" style="stroke:none">-</text>
<text x="443.69" y="1413.99" font-size="22.5" text-anchor="middle" style="stroke:none">-</text>
<text x="495.08" y="1413.99" font-size="22.5" text-anchor="middle" style="stroke:none">-</text>
<text x="545.18" y="1412.54" font-size="17.3" text-anchor="middle">1.17</text>
<text x="596.27" y="1412.54" font-size="17.3" text-anchor="middle">2.34</text>
<text x="647.36" y="1412.54" font-size="17.3" text-anchor="middle">4.68</text>
</g>
<g id="c14">
<rect x="901.07" y="1288.38" width="33.6" height="33.32" fill="#3a494e"/>
<rect x="952.29" y="1144.25" width="33.6" height="177.44" fill="#d0dbea"/>
<rect x="1003.51" y="1202.84" width="33.6" height="118.85" fill="#1a93c1"/>
<rect x="1054.74" y="1316.08" width="33.6" height="5.62" fill="#788685"/>
<rect x="1105.96" y="1274.71" width="33.6" height="46.98" fill="#6685ab"/>
<rect x="1157.18" y="1291.56" width="33.6" height="30.13" fill="#94470a"/>
<g stroke="#161616" stroke-width="2.5" fill="none">
<path d="M908.87 1282.76H926.87M908.87 1293.05H926.87M917.87 1282.76V1293.05"/>
<path d="M960.09 1131.15H978.09M960.09 1155.48H978.09M969.09 1131.15V1155.48"/>
<path d="M1011.31 1188.24H1029.31M1011.31 1217.62H1029.31M1020.31 1188.24V1217.62"/>
<path d="M1062.54 1317.01H1080.54M1062.54 1317.57H1080.54M1071.54 1317.01V1317.57"/>
<path d="M1113.76 1264.04H1131.76M1113.76 1284.26H1131.76M1122.76 1264.04V1284.26"/>
<path d="M1164.98 1290.25H1182.98M1164.98 1292.12H1182.98M1173.98 1290.25V1292.12"/>
</g>
<g fill="#8a8a8a">
<circle cx="911.13" cy="1282.39" r="3.5"/>
<circle cx="925.16" cy="1288.94" r="3.5"/>
<circle cx="911.13" cy="1293.05" r="3.5"/>
<circle cx="969.46" cy="1130.22" r="3.5"/>
<circle cx="976.2" cy="1148" r="3.5"/>
<circle cx="962.54" cy="1153.05" r="3.5"/>
<circle cx="1020.31" cy="1186.74" r="3.5"/>
<circle cx="1013.57" cy="1212.01" r="3.5"/>
<circle cx="1027.24" cy="1210.32" r="3.5"/>
<circle cx="1058.06" cy="1317.01" r="3.5"/>
<circle cx="1071.72" cy="1316.08" r="3.5"/>
<circle cx="1085.2" cy="1317.01" r="3.5"/>
<circle cx="1122.48" cy="1263.67" r="3.5"/>
<circle cx="1122.48" cy="1276.21" r="3.5"/>
<circle cx="1122.48" cy="1283.32" r="3.5"/>
<circle cx="1160.13" cy="1291.56" r="3.5"/>
<circle cx="1173.8" cy="1289.87" r="3.5"/>
<circle cx="1187.27" cy="1291.56" r="3.5"/>
</g>
<path d="M883.97 1087.28V1321.69M875.47 1263.39H883.97M875.47 1205.08H883.97M875.47 1146.78H883.97M875.47 1088.48H883.97M917.87 1321.69V1332.19M969.09 1321.69V1332.19M1020.31 1321.69V1332.19M1071.54 1321.69V1332.19M1122.76 1321.69V1332.19M1173.98 1321.69V1332.19" stroke="#0a0a0a" stroke-width="2.4" fill="none"/>
<path d="M875.47 1322.59H1209.65" stroke="#0a0a0a" stroke-width="2.6" fill="none"/>
<text x="871.47" y="1327.67" font-size="16.6" text-anchor="end">0</text>
<text x="871.47" y="1269.36" font-size="16.6" text-anchor="end">2</text>
<text x="871.47" y="1211.06" font-size="16.6" text-anchor="end">4</text>
<text x="871.47" y="1152.76" font-size="16.6" text-anchor="end">6</text>
<text x="871.47" y="1094.45" font-size="16.6" text-anchor="end">8</text>
<text x="969.09" y="1124.08" font-size="17.5" text-anchor="middle" letter-spacing="0.6">**</text>
<text x="1071.54" y="1306.32" font-size="20" text-anchor="middle" style="stroke-width:0.6px">##</text>
<text x="1124.26" y="1253.35" font-size="20" text-anchor="middle" style="stroke-width:0.6px">#</text>
<text x="1175.11" y="1278.62" font-size="20" text-anchor="middle" style="stroke-width:0.6px">#</text>
<text transform="translate(819.74,1204.9) rotate(-90)" font-size="16.7" text-anchor="middle">Hmox1</text>
<text transform="translate(841.62,1204) rotate(-90)" font-size="17.5" text-anchor="middle">mRNA relatively expression</text>
<text x="881.77" y="1353.25" font-size="17.6" text-anchor="end">10% CCl<tspan dy="3" font-size="11">4</tspan></text>
<text x="918.27" y="1356.69" font-size="22.5" text-anchor="middle" style="stroke:none">-</text>
<text x="969.79" y="1357.19" font-size="19.5" text-anchor="middle">+</text>
<text x="1021.31" y="1357.19" font-size="19.5" text-anchor="middle">+</text>
<text x="1072.84" y="1357.19" font-size="19.5" text-anchor="middle">+</text>
<text x="1124.36" y="1357.19" font-size="19.5" text-anchor="middle">+</text>
<text x="1175.88" y="1359.09" font-size="19.5" text-anchor="middle">+</text>
<text x="886.97" y="1381.21" font-size="17.5" text-anchor="end">200 mg/kg BD</text>
<text x="918.27" y="1381.59" font-size="22.5" text-anchor="middle" style="stroke:none">-</text>
<text x="969.79" y="1381.59" font-size="22.5" text-anchor="middle" style="stroke:none">-</text>
<text x="1021.31" y="1382.09" font-size="19.5" text-anchor="middle">+</text>
<text x="1072.84" y="1381.59" font-size="22.5" text-anchor="middle" style="stroke:none">-</text>
<text x="1124.36" y="1381.59" font-size="22.5" text-anchor="middle" style="stroke:none">-</text>
<text x="1175.88" y="1383.39" font-size="22.5" text-anchor="middle" style="stroke:none">-</text>
<text x="889.47" y="1411.11" font-size="17.5" text-anchor="end">GDK (mg/kg)</text>
<text x="918.27" y="1414.19" font-size="22.5" text-anchor="middle" style="stroke:none">-</text>
<text x="969.79" y="1414.19" font-size="22.5" text-anchor="middle" style="stroke:none">-</text>
<text x="1021.31" y="1414.19" font-size="22.5" text-anchor="middle" style="stroke:none">-</text>
<text x="1071.54" y="1412.74" font-size="17.3" text-anchor="middle">1.17</text>
<text x="1122.76" y="1412.74" font-size="17.3" text-anchor="middle">2.34</text>
<text x="1173.98" y="1412.74" font-size="17.3" text-anchor="middle">4.68</text>
</g>
<g id="c15">
<rect x="1427.66" y="1222.3" width="33.6" height="99.39" fill="#3a494e"/>
<rect x="1478.74" y="1162.41" width="33.6" height="159.28" fill="#d0dbea"/>
<rect x="1529.82" y="1153.24" width="33.6" height="168.45" fill="#1a93c1"/>
<rect x="1580.9" y="1309.34" width="33.6" height="12.35" fill="#788685"/>
<rect x="1631.98" y="1270.59" width="33.6" height="51.1" fill="#6685ab"/>
<rect x="1683.07" y="1177.38" width="33.6" height="144.31" fill="#94470a"/>
<g stroke="#161616" stroke-width="2.5" fill="none">
<path d="M1435.46 1188.24H1453.46M1435.46 1254.68H1453.46M1444.46 1188.24V1254.68"/>
<path d="M1486.54 1154.17H1504.54M1486.54 1170.08H1504.54M1495.54 1154.17V1170.08"/>
<path d="M1537.62 1107.19H1555.62M1537.62 1198.53H1555.62M1546.62 1107.19V1198.53"/>
<path d="M1588.7 1308.4H1606.7M1588.7 1312.33H1606.7M1597.7 1308.4V1312.33"/>
<path d="M1639.78 1263.11H1657.78M1639.78 1277.52H1657.78M1648.78 1263.11V1277.52"/>
<path d="M1690.87 1165.78H1708.87M1690.87 1188.61H1708.87M1699.87 1165.78V1188.61"/>
</g>
<g fill="#8a8a8a">
<circle cx="1444.36" cy="1183.56" r="3.5"/>
<circle cx="1444.36" cy="1236.9" r="3.5"/>
<circle cx="1444.36" cy="1244.39" r="3.5"/>
<circle cx="1495.63" cy="1152.68" r="3.5"/>
<circle cx="1488.71" cy="1167.65" r="3.5"/>
<circle cx="1502.37" cy="1164.84" r="3.5"/>
<circle cx="1546.62" cy="1102.51" r="3.5"/>
<circle cx="1546.62" cy="1166.15" r="3.5"/>
<circle cx="1546.62" cy="1191.98" r="3.5"/>
<circle cx="1584.32" cy="1312.71" r="3.5"/>
<circle cx="1597.8" cy="1308.59" r="3.5"/>
<circle cx="1611.46" cy="1309.9" r="3.5"/>
<circle cx="1649.16" cy="1262.17" r="3.5"/>
<circle cx="1642.23" cy="1276.21" r="3.5"/>
<circle cx="1656.27" cy="1272.84" r="3.5"/>
<circle cx="1700.15" cy="1165.4" r="3.5"/>
<circle cx="1700.15" cy="1177.38" r="3.5"/>
<circle cx="1700.15" cy="1188.61" r="3.5"/>
</g>
<path d="M1410.48 1087.28V1321.69M1401.98 1275.05H1410.48M1401.98 1228.41H1410.48M1401.98 1181.76H1410.48M1401.98 1135.12H1410.48M1401.98 1088.48H1410.48M1444.46 1321.69V1332.19M1495.54 1321.69V1332.19M1546.62 1321.69V1332.19M1597.7 1321.69V1332.19M1648.78 1321.69V1332.19M1699.87 1321.69V1332.19" stroke="#0a0a0a" stroke-width="2.4" fill="none"/>
<path d="M1401.98 1322.59H1736.15" stroke="#0a0a0a" stroke-width="2.6" fill="none"/>
<text x="1397.98" y="1327.67" font-size="16.6" text-anchor="end">0.0</text>
<text x="1397.98" y="1281.02" font-size="16.6" text-anchor="end">0.6</text>
<text x="1397.98" y="1234.38" font-size="16.6" text-anchor="end">1.2</text>
<text x="1397.98" y="1187.74" font-size="16.6" text-anchor="end">1.8</text>
<text x="1397.98" y="1141.1" font-size="16.6" text-anchor="end">2.4</text>
<text x="1397.98" y="1094.45" font-size="16.6" text-anchor="end">3.0</text>
<text x="1495.54" y="1148.79" font-size="17.5" text-anchor="middle" letter-spacing="0.6">*</text>
<text x="1546.62" y="1098.81" font-size="17.5" text-anchor="middle" letter-spacing="0.6">*</text>
<text x="1597.7" y="1297.33" font-size="20" text-anchor="middle" style="stroke-width:0.6px">**##</text>
<text x="1651.03" y="1252.04" font-size="20" text-anchor="middle" style="stroke-width:0.6px">*##</text>
<text x="1699.87" y="1155.34" font-size="17.5" text-anchor="middle" letter-spacing="0.6">*</text>
<text transform="translate(1330.74,1204.9) rotate(-90)" font-size="16.7" text-anchor="middle">Nqo-1</text>
<text transform="translate(1352.32,1204) rotate(-90)" font-size="17.5" text-anchor="middle">mRNA relatively expression</text>
<text x="1408.28" y="1353.25" font-size="17.6" text-anchor="end">10% CCl<tspan dy="3" font-size="11">4</tspan></text>
<text x="1444.86" y="1356.69" font-size="22.5" text-anchor="middle" style="stroke:none">-</text>
<text x="1496.24" y="1357.19" font-size="19.5" text-anchor="middle">+</text>
<text x="1547.62" y="1357.19" font-size="19.5" text-anchor="middle">+</text>
<text x="1599" y="1357.19" font-size="19.5" text-anchor="middle">+</text>
<text x="1650.38" y="1357.19" font-size="19.5" text-anchor="middle">+</text>
<text x="1701.77" y="1359.09" font-size="19.5" text-anchor="middle">+</text>
<text x="1413.48" y="1381.21" font-size="17.5" text-anchor="end">200 mg/kg BD</text>
<text x="1444.86" y="1381.59" font-size="22.5" text-anchor="middle" style="stroke:none">-</text>
<text x="1496.24" y="1381.59" font-size="22.5" text-anchor="middle" style="stroke:none">-</text>
<text x="1547.62" y="1382.09" font-size="19.5" text-anchor="middle">+</text>
<text x="1599" y="1381.59" font-size="22.5" text-anchor="middle" style="stroke:none">-</text>
<text x="1650.38" y="1381.59" font-size="22.5" text-anchor="middle" style="stroke:none">-</text>
<text x="1701.77" y="1383.39" font-size="22.5" text-anchor="middle" style="stroke:none">-</text>
<text x="1415.98" y="1411.11" font-size="17.5" text-anchor="end">GDK (mg/kg)</text>
<text x="1444.86" y="1414.19" font-size="22.5" text-anchor="middle" style="stroke:none">-</text>
<text x="1496.24" y="1414.19" font-size="22.5" text-anchor="middle" style="stroke:none">-</text>
<text x="1547.62" y="1414.19" font-size="22.5" text-anchor="middle" style="stroke:none">-</text>
<text x="1597.7" y="1412.74" font-size="17.3" text-anchor="middle">1.17</text>
<text x="1648.78" y="1412.74" font-size="17.3" text-anchor="middle">2.34</text>
<text x="1699.87" y="1412.74" font-size="17.3" text-anchor="middle">4.68</text>
</g>
<g id="c16">
<rect x="170.96" y="1669.28" width="33.6" height="17.78" fill="#3a494e"/>
<rect x="222.17" y="1610.7" width="33.6" height="76.37" fill="#d0dbea"/>
<rect x="273.39" y="1575.14" width="33.6" height="111.93" fill="#1a93c1"/>
<rect x="324.61" y="1556.98" width="33.6" height="130.08" fill="#788685"/>
<rect x="375.83" y="1556.98" width="33.6" height="130.08" fill="#6685ab"/>
<rect x="427.05" y="1542.94" width="33.6" height="144.12" fill="#94470a"/>
<g stroke="#161616" stroke-width="2.5" fill="none">
<path d="M178.76 1663.67H196.76M178.76 1673.96H196.76M187.76 1663.67V1673.96"/>
<path d="M229.97 1597.6H247.97M229.97 1623.43H247.97M238.97 1597.6V1623.43"/>
<path d="M281.19 1562.04H299.19M281.19 1588.43H299.19M290.19 1562.04V1588.43"/>
<path d="M332.41 1546.69H350.41M332.41 1565.78H350.41M341.41 1546.69V1565.78"/>
<path d="M383.63 1548.19H401.63M383.63 1564.47H401.63M392.63 1548.19V1564.47"/>
<path d="M434.85 1540.51H452.85M434.85 1546.69H452.85M443.85 1540.51V1546.69"/>
</g>
<g fill="#8a8a8a">
<circle cx="187.19" cy="1662.73" r="3.5"/>
<circle cx="180.08" cy="1672.65" r="3.5"/>
<circle cx="194.49" cy="1671.53" r="3.5"/>
<circle cx="231.49" cy="1600.03" r="3.5"/>
<circle cx="245.52" cy="1606.58" r="3.5"/>
<circle cx="238.41" cy="1624.93" r="3.5"/>
<circle cx="289.82" cy="1559.79" r="3.5"/>
<circle cx="296.93" cy="1580.75" r="3.5"/>
<circle cx="282.89" cy="1584.5" r="3.5"/>
<circle cx="341.32" cy="1545.19" r="3.5"/>
<circle cx="348.05" cy="1559.79" r="3.5"/>
<circle cx="334.39" cy="1563.53" r="3.5"/>
<circle cx="392.53" cy="1548.19" r="3.5"/>
<circle cx="392.53" cy="1556.98" r="3.5"/>
<circle cx="392.53" cy="1564.09" r="3.5"/>
<circle cx="443.94" cy="1541.63" r="3.5"/>
<circle cx="457.98" cy="1542.01" r="3.5"/>
<circle cx="430.28" cy="1546.69" r="3.5"/>
</g>
<path d="M152.88 1452.28V1687.07M144.38 1628.67H152.88M144.38 1570.27H152.88M144.38 1511.87H152.88M144.38 1453.48H152.88M187.76 1687.07V1697.57M238.97 1687.07V1697.57M290.19 1687.07V1697.57M341.41 1687.07V1697.57M392.63 1687.07V1697.57M443.85 1687.07V1697.57" stroke="#0a0a0a" stroke-width="2.4" fill="none"/>
<path d="M144.38 1687.97H479.88" stroke="#0a0a0a" stroke-width="2.6" fill="none"/>
<text x="140.38" y="1693.04" font-size="16.6" text-anchor="end">0</text>
<text x="140.38" y="1634.64" font-size="16.6" text-anchor="end">4</text>
<text x="140.38" y="1576.25" font-size="16.6" text-anchor="end">8</text>
<text x="140.38" y="1517.85" font-size="16.6" text-anchor="end">12</text>
<text x="140.38" y="1459.45" font-size="16.6" text-anchor="end">16</text>
<text x="238.97" y="1589.59" font-size="17.5" text-anchor="middle" letter-spacing="0.6">**</text>
<text x="294.31" y="1551.9" font-size="20" text-anchor="middle" style="stroke-width:0.6px">**##</text>
<text x="343.66" y="1535.99" font-size="20" text-anchor="middle" style="stroke-width:0.6px">**##</text>
<text x="396.75" y="1537.86" font-size="20" text-anchor="middle" style="stroke-width:0.6px">**##</text>
<text x="447.21" y="1532.25" font-size="20" text-anchor="middle" style="stroke-width:0.6px">**##</text>
<text transform="translate(79.04,1570.4) rotate(-90)" font-size="16.7" text-anchor="middle">Nfe2l2</text>
<text transform="translate(100.32,1569.5) rotate(-90)" font-size="17.5" text-anchor="middle">mRNA relatively expression</text>
<text x="150.58" y="1717.89" font-size="17.5" text-anchor="end">10% CCl<tspan dy="3" font-size="11">4</tspan></text>
<text x="188.16" y="1721.06" font-size="22.5" text-anchor="middle" style="stroke:none">-</text>
<text x="239.67" y="1721.56" font-size="19.5" text-anchor="middle">+</text>
<text x="291.19" y="1721.56" font-size="19.5" text-anchor="middle">+</text>
<text x="342.71" y="1721.56" font-size="19.5" text-anchor="middle">+</text>
<text x="394.23" y="1721.56" font-size="19.5" text-anchor="middle">+</text>
<text x="445.75" y="1723.46" font-size="19.5" text-anchor="middle">+</text>
<text x="155.88" y="1747.69" font-size="17.5" text-anchor="end">200 mg/kg BD</text>
<text x="188.16" y="1747.56" font-size="22.5" text-anchor="middle" style="stroke:none">-</text>
<text x="239.67" y="1747.56" font-size="22.5" text-anchor="middle" style="stroke:none">-</text>
<text x="291.19" y="1748.06" font-size="19.5" text-anchor="middle">+</text>
<text x="342.71" y="1747.56" font-size="22.5" text-anchor="middle" style="stroke:none">-</text>
<text x="394.23" y="1747.56" font-size="22.5" text-anchor="middle" style="stroke:none">-</text>
<text x="445.75" y="1749.36" font-size="22.5" text-anchor="middle" style="stroke:none">-</text>
<text x="158.38" y="1778.09" font-size="17.5" text-anchor="end">GDK (mg/kg)</text>
<text x="188.16" y="1780.26" font-size="22.5" text-anchor="middle" style="stroke:none">-</text>
<text x="239.67" y="1780.26" font-size="22.5" text-anchor="middle" style="stroke:none">-</text>
<text x="291.19" y="1780.26" font-size="22.5" text-anchor="middle" style="stroke:none">-</text>
<text x="341.41" y="1778.82" font-size="17.3" text-anchor="middle">1.17</text>
<text x="392.63" y="1778.82" font-size="17.3" text-anchor="middle">2.34</text>
<text x="443.85" y="1778.82" font-size="17.3" text-anchor="middle">4.68</text>
</g>
<g id="c17">
<rect x="636.88" y="1684.26" width="33.6" height="2.81" fill="#3a494e"/>
<rect x="688.17" y="1686.13" width="33.6" height="0.94" fill="#d0dbea"/>
<rect x="739.46" y="1685.19" width="33.6" height="1.87" fill="#1a93c1"/>
<rect x="790.75" y="1670.6" width="33.6" height="16.47" fill="#788685"/>
<rect x="842.05" y="1512.06" width="33.6" height="175.01" fill="#6685ab"/>
<rect x="893.34" y="1544.82" width="33.6" height="142.25" fill="#94470a"/>
<g stroke="#161616" stroke-width="2.5" fill="none">
<path d="M644.68 1683.32H662.68M644.68 1685.57H662.68M653.68 1683.32V1685.57"/>
<path d="M695.97 1685.57H713.97M695.97 1686.69H713.97M704.97 1685.57V1686.69"/>
<path d="M747.26 1684.82H765.26M747.26 1685.94H765.26M756.26 1684.82V1685.94"/>
<path d="M798.55 1666.1H816.55M798.55 1673.96H816.55M807.55 1666.1V1673.96"/>
<path d="M849.85 1469.57H867.85M849.85 1553.24H867.85M858.85 1469.57V1553.24"/>
<path d="M901.14 1543.32H919.14M901.14 1547.06H919.14M910.14 1543.32V1547.06"/>
</g>
<g fill="#8a8a8a">
<circle cx="639.46" cy="1684.26" r="3.5"/>
<circle cx="653.12" cy="1683.7" r="3.5"/>
<circle cx="666.97" cy="1684.26" r="3.5"/>
<circle cx="690.94" cy="1686.69" r="3.5"/>
<circle cx="704.41" cy="1685.94" r="3.5"/>
<circle cx="718.45" cy="1686.5" r="3.5"/>
<circle cx="742.41" cy="1685.76" r="3.5"/>
<circle cx="755.89" cy="1685.01" r="3.5"/>
<circle cx="769.55" cy="1685.76" r="3.5"/>
<circle cx="800.16" cy="1665.92" r="3.5"/>
<circle cx="814.57" cy="1670.78" r="3.5"/>
<circle cx="800.16" cy="1673.96" r="3.5"/>
<circle cx="858.75" cy="1465.27" r="3.5"/>
<circle cx="858.75" cy="1522.36" r="3.5"/>
<circle cx="858.75" cy="1547.06" r="3.5"/>
<circle cx="896.28" cy="1546.31" r="3.5"/>
<circle cx="909.95" cy="1542.57" r="3.5"/>
<circle cx="923.99" cy="1545.75" r="3.5"/>
</g>
<path d="M618.88 1452.28V1687.07M610.38 1640.35H618.88M610.38 1593.63H618.88M610.38 1546.91H618.88M610.38 1500.19H618.88M610.38 1453.48H618.88M653.68 1687.07V1697.57M704.97 1687.07V1697.57M756.26 1687.07V1697.57M807.55 1687.07V1697.57M858.85 1687.07V1697.57M910.14 1687.07V1697.57" stroke="#0a0a0a" stroke-width="2.4" fill="none"/>
<path d="M610.38 1687.97H945.88" stroke="#0a0a0a" stroke-width="2.6" fill="none"/>
<text x="606.38" y="1693.04" font-size="16.6" text-anchor="end">0</text>
<text x="606.38" y="1646.32" font-size="16.6" text-anchor="end">17</text>
<text x="606.38" y="1599.61" font-size="16.6" text-anchor="end">34</text>
<text x="606.38" y="1552.89" font-size="16.6" text-anchor="end">51</text>
<text x="606.38" y="1506.17" font-size="16.6" text-anchor="end">68</text>
<text x="606.38" y="1459.45" font-size="16.6" text-anchor="end">85</text>
<text x="704.97" y="1672.32" font-size="17.5" text-anchor="middle" letter-spacing="0.6">**</text>
<text x="756.26" y="1663.27" font-size="20" text-anchor="middle" style="stroke-width:0.6px">#</text>
<text x="809.43" y="1659.53" font-size="20" text-anchor="middle" style="stroke-width:0.6px">**##</text>
<text x="861.65" y="1459.81" font-size="20" text-anchor="middle" style="stroke-width:0.6px">**##</text>
<text x="918.37" y="1525.7" font-size="20" text-anchor="middle" style="stroke-width:0.6px">**##</text>
<text transform="translate(544.04,1571.4) rotate(-90)" font-size="16.7" text-anchor="middle">Slc7a11</text>
<text transform="translate(566.02,1570.5) rotate(-90)" font-size="17.5" text-anchor="middle">mRNA relatively expression</text>
<text x="622.08" y="1717.89" font-size="17.5" text-anchor="end">10% CCl<tspan dx="4.5" dy="3" font-size="11">4</tspan></text>
<text x="654.08" y="1721.06" font-size="22.5" text-anchor="middle" style="stroke:none">-</text>
<text x="705.67" y="1721.56" font-size="19.5" text-anchor="middle">+</text>
<text x="757.26" y="1721.56" font-size="19.5" text-anchor="middle">+</text>
<text x="808.85" y="1721.56" font-size="19.5" text-anchor="middle">+</text>
<text x="860.45" y="1721.56" font-size="19.5" text-anchor="middle">+</text>
<text x="912.04" y="1723.46" font-size="19.5" text-anchor="middle">+</text>
<text x="621.88" y="1747.69" font-size="17.5" text-anchor="end">200 mg/kg BD</text>
<text x="654.08" y="1747.56" font-size="22.5" text-anchor="middle" style="stroke:none">-</text>
<text x="705.67" y="1747.56" font-size="22.5" text-anchor="middle" style="stroke:none">-</text>
<text x="757.26" y="1748.06" font-size="19.5" text-anchor="middle">+</text>
<text x="808.85" y="1747.56" font-size="22.5" text-anchor="middle" style="stroke:none">-</text>
<text x="860.45" y="1747.56" font-size="22.5" text-anchor="middle" style="stroke:none">-</text>
<text x="912.04" y="1749.36" font-size="22.5" text-anchor="middle" style="stroke:none">-</text>
<text x="624.38" y="1778.09" font-size="17.5" text-anchor="end">GDK (mg/kg)</text>
<text x="654.08" y="1780.26" font-size="22.5" text-anchor="middle" style="stroke:none">-</text>
<text x="705.67" y="1780.26" font-size="22.5" text-anchor="middle" style="stroke:none">-</text>
<text x="757.26" y="1780.26" font-size="22.5" text-anchor="middle" style="stroke:none">-</text>
<text x="807.55" y="1778.82" font-size="17.3" text-anchor="middle">1.17</text>
<text x="858.85" y="1778.82" font-size="17.3" text-anchor="middle">2.34</text>
<text x="910.14" y="1778.82" font-size="17.3" text-anchor="middle">4.68</text>
</g>
<g id="c18">
<rect x="1102.95" y="1524.23" width="33.6" height="162.84" fill="#3a494e"/>
<rect x="1154.2" y="1605.27" width="33.6" height="81.79" fill="#d0dbea"/>
<rect x="1205.45" y="1513.37" width="33.6" height="173.7" fill="#1a93c1"/>
<rect x="1256.7" y="1540.14" width="33.6" height="146.93" fill="#788685"/>
<rect x="1307.96" y="1518.24" width="33.6" height="168.83" fill="#6685ab"/>
<rect x="1359.21" y="1499.52" width="33.6" height="187.55" fill="#94470a"/>
<g stroke="#161616" stroke-width="2.5" fill="none">
<path d="M1110.75 1507.01H1128.75M1110.75 1539.58H1128.75M1119.75 1507.01V1539.58"/>
<path d="M1162 1604.71H1180M1162 1606.02H1180M1171 1604.71V1606.02"/>
<path d="M1213.25 1475.19H1231.25M1213.25 1551.37H1231.25M1222.25 1475.19V1551.37"/>
<path d="M1264.5 1510.56H1282.5M1264.5 1569.15H1282.5M1273.5 1510.56V1569.15"/>
<path d="M1315.76 1506.07H1333.76M1315.76 1528.91H1333.76M1324.76 1506.07V1528.91"/>
<path d="M1367.01 1489.23H1385.01M1367.01 1508.88H1385.01M1376.01 1489.23V1508.88"/>
</g>
<g fill="#8a8a8a">
<circle cx="1119.56" cy="1504.57" r="3.5"/>
<circle cx="1112.45" cy="1533.59" r="3.5"/>
<circle cx="1126.48" cy="1531.71" r="3.5"/>
<circle cx="1156.96" cy="1605.65" r="3.5"/>
<circle cx="1171" cy="1603.77" r="3.5"/>
<circle cx="1184.48" cy="1605.27" r="3.5"/>
<circle cx="1222.25" cy="1481.55" r="3.5"/>
<circle cx="1222.25" cy="1503.08" r="3.5"/>
<circle cx="1222.25" cy="1555.48" r="3.5"/>
<circle cx="1273.41" cy="1506.07" r="3.5"/>
<circle cx="1280.52" cy="1554.55" r="3.5"/>
<circle cx="1266.49" cy="1559.23" r="3.5"/>
<circle cx="1325.04" cy="1507.01" r="3.5"/>
<circle cx="1325.04" cy="1515.8" r="3.5"/>
<circle cx="1325.04" cy="1530.22" r="3.5"/>
<circle cx="1369.27" cy="1490.16" r="3.5"/>
<circle cx="1383.68" cy="1497.09" r="3.5"/>
<circle cx="1375.82" cy="1509.81" r="3.5"/>
</g>
<path d="M1085.82 1452.28V1687.07M1077.32 1640.35H1085.82M1077.32 1593.63H1085.82M1077.32 1546.91H1085.82M1077.32 1500.19H1085.82M1077.32 1453.48H1085.82M1119.75 1687.07V1697.57M1171 1687.07V1697.57M1222.25 1687.07V1697.57M1273.5 1687.07V1697.57M1324.76 1687.07V1697.57M1376.01 1687.07V1697.57" stroke="#0a0a0a" stroke-width="2.4" fill="none"/>
<path d="M1077.32 1687.97H1412.82" stroke="#0a0a0a" stroke-width="2.6" fill="none"/>
<text x="1073.32" y="1693.04" font-size="16.6" text-anchor="end">0.0</text>
<text x="1073.32" y="1646.32" font-size="16.6" text-anchor="end">0.3</text>
<text x="1073.32" y="1599.61" font-size="16.6" text-anchor="end">0.6</text>
<text x="1073.32" y="1552.89" font-size="16.6" text-anchor="end">0.9</text>
<text x="1073.32" y="1506.17" font-size="16.6" text-anchor="end">1.2</text>
<text x="1073.32" y="1459.45" font-size="16.6" text-anchor="end">1.5</text>
<text x="1171" y="1592.03" font-size="17.5" text-anchor="middle" letter-spacing="0.6">*</text>
<text x="1326.26" y="1495.38" font-size="20" text-anchor="middle" style="stroke-width:0.6px">#</text>
<text x="1377.51" y="1477.97" font-size="20" text-anchor="middle" style="stroke-width:0.6px">#</text>
<text transform="translate(1005.74,1571.4) rotate(-90)" font-size="16.7" text-anchor="middle">Gpx4</text>
<text transform="translate(1027.32,1570.5) rotate(-90)" font-size="17.5" text-anchor="middle">mRNA relatively expression</text>
<text x="1088.42" y="1717.89" font-size="17.5" text-anchor="end">10% CCl<tspan dx="4.5" dy="3" font-size="11">4</tspan></text>
<text x="1120.15" y="1721.06" font-size="22.5" text-anchor="middle" style="stroke:none">-</text>
<text x="1171.7" y="1721.56" font-size="19.5" text-anchor="middle">+</text>
<text x="1223.25" y="1721.56" font-size="19.5" text-anchor="middle">+</text>
<text x="1274.8" y="1721.56" font-size="19.5" text-anchor="middle">+</text>
<text x="1326.36" y="1721.56" font-size="19.5" text-anchor="middle">+</text>
<text x="1377.91" y="1723.46" font-size="19.5" text-anchor="middle">+</text>
<text x="1088.82" y="1747.69" font-size="17.5" text-anchor="end">200 mg/kg BD</text>
<text x="1120.15" y="1747.56" font-size="22.5" text-anchor="middle" style="stroke:none">-</text>
<text x="1171.7" y="1747.56" font-size="22.5" text-anchor="middle" style="stroke:none">-</text>
<text x="1223.25" y="1748.06" font-size="19.5" text-anchor="middle">+</text>
<text x="1274.8" y="1747.56" font-size="22.5" text-anchor="middle" style="stroke:none">-</text>
<text x="1326.36" y="1747.56" font-size="22.5" text-anchor="middle" style="stroke:none">-</text>
<text x="1377.91" y="1749.36" font-size="22.5" text-anchor="middle" style="stroke:none">-</text>
<text x="1091.32" y="1778.09" font-size="17.5" text-anchor="end">GDK (mg/kg)</text>
<text x="1120.15" y="1780.26" font-size="22.5" text-anchor="middle" style="stroke:none">-</text>
<text x="1171.7" y="1780.26" font-size="22.5" text-anchor="middle" style="stroke:none">-</text>
<text x="1223.25" y="1780.26" font-size="22.5" text-anchor="middle" style="stroke:none">-</text>
<text x="1273.5" y="1778.82" font-size="17.3" text-anchor="middle">1.17</text>
<text x="1324.76" y="1778.82" font-size="17.3" text-anchor="middle">2.34</text>
<text x="1376.01" y="1778.82" font-size="17.3" text-anchor="middle">4.68</text>
</g>
<g id="c19">
<rect x="1568.91" y="1623.99" width="33.6" height="63.08" fill="#3a494e"/>
<rect x="1620.28" y="1491.1" width="33.6" height="195.97" fill="#d0dbea"/>
<rect x="1671.66" y="1557.54" width="33.6" height="129.52" fill="#1a93c1"/>
<rect x="1723.03" y="1671.53" width="33.6" height="15.54" fill="#788685"/>
<rect x="1774.4" y="1623.05" width="33.6" height="64.01" fill="#6685ab"/>
<rect x="1825.78" y="1606.02" width="33.6" height="81.05" fill="#94470a"/>
<g stroke="#161616" stroke-width="2.5" fill="none">
<path d="M1576.71 1610.33H1594.71M1576.71 1636.53H1594.71M1585.71 1610.33V1636.53"/>
<path d="M1628.08 1483.61H1646.08M1628.08 1498.4H1646.08M1637.08 1483.61V1498.4"/>
<path d="M1679.46 1543.51H1697.46M1679.46 1570.46H1697.46M1688.46 1543.51V1570.46"/>
<path d="M1730.83 1670.78H1748.83M1730.83 1673.96H1748.83M1739.83 1670.78V1673.96"/>
<path d="M1782.2 1615.38H1800.2M1782.2 1630.91H1800.2M1791.2 1615.38V1630.91"/>
<path d="M1833.58 1597.79H1851.58M1833.58 1614.44H1851.58M1842.58 1597.79V1614.44"/>
</g>
<g fill="#8a8a8a">
<circle cx="1585.52" cy="1609.76" r="3.5"/>
<circle cx="1585.52" cy="1625.67" r="3.5"/>
<circle cx="1585.52" cy="1635.59" r="3.5"/>
<circle cx="1630.53" cy="1486.42" r="3.5"/>
<circle cx="1644.01" cy="1486.42" r="3.5"/>
<circle cx="1637.08" cy="1499.52" r="3.5"/>
<circle cx="1681.34" cy="1548.19" r="3.5"/>
<circle cx="1695.38" cy="1551.37" r="3.5"/>
<circle cx="1688.46" cy="1572.52" r="3.5"/>
<circle cx="1725.7" cy="1673.96" r="3.5"/>
<circle cx="1739.18" cy="1671.53" r="3.5"/>
<circle cx="1753.21" cy="1672.65" r="3.5"/>
<circle cx="1790.74" cy="1614.07" r="3.5"/>
<circle cx="1783.81" cy="1627.17" r="3.5"/>
<circle cx="1797.85" cy="1627.17" r="3.5"/>
<circle cx="1842.11" cy="1596.85" r="3.5"/>
<circle cx="1849.6" cy="1608.45" r="3.5"/>
<circle cx="1835.56" cy="1612.2" r="3.5"/>
</g>
<path d="M1551.44 1452.28V1687.07M1542.94 1640.35H1551.44M1542.94 1593.63H1551.44M1542.94 1546.91H1551.44M1542.94 1500.19H1551.44M1542.94 1453.48H1551.44M1585.71 1687.07V1697.57M1637.08 1687.07V1697.57M1688.46 1687.07V1697.57M1739.83 1687.07V1697.57M1791.2 1687.07V1697.57M1842.58 1687.07V1697.57" stroke="#0a0a0a" stroke-width="2.4" fill="none"/>
<path d="M1542.94 1687.97H1878.44" stroke="#0a0a0a" stroke-width="2.6" fill="none"/>
<text x="1538.94" y="1693.04" font-size="16.6" text-anchor="end">0.0</text>
<text x="1538.94" y="1646.32" font-size="16.6" text-anchor="end">0.9</text>
<text x="1538.94" y="1599.61" font-size="16.6" text-anchor="end">1.8</text>
<text x="1538.94" y="1552.89" font-size="16.6" text-anchor="end">2.7</text>
<text x="1538.94" y="1506.17" font-size="16.6" text-anchor="end">3.6</text>
<text x="1538.94" y="1459.45" font-size="16.6" text-anchor="end">4.5</text>
<text x="1637.08" y="1479.16" font-size="17.5" text-anchor="middle" letter-spacing="0.6">**</text>
<text x="1688.46" y="1539.43" font-size="17.5" text-anchor="middle" letter-spacing="0.6">*</text>
<text x="1739.83" y="1655.78" font-size="20" text-anchor="middle" style="stroke-width:0.6px">##</text>
<text x="1791.2" y="1603.37" font-size="20" text-anchor="middle" style="stroke-width:0.6px">##</text>
<text x="1842.58" y="1585.59" font-size="20" text-anchor="middle" style="stroke-width:0.6px">##</text>
<text transform="translate(1471.74,1571.4) rotate(-90)" font-size="16.7" text-anchor="middle">Acsl4</text>
<text transform="translate(1493.32,1570.5) rotate(-90)" font-size="17.5" text-anchor="middle">mRNA relatively expression</text>
<text x="1554.14" y="1717.89" font-size="17.5" text-anchor="end">10% CC<tspan dx="2.5">l</tspan><tspan dx="1.5" dy="3" font-size="11">4</tspan></text>
<text x="1586.11" y="1721.06" font-size="22.5" text-anchor="middle" style="stroke:none">-</text>
<text x="1637.78" y="1721.56" font-size="19.5" text-anchor="middle">+</text>
<text x="1689.46" y="1721.56" font-size="19.5" text-anchor="middle">+</text>
<text x="1741.13" y="1721.56" font-size="19.5" text-anchor="middle">+</text>
<text x="1792.8" y="1721.56" font-size="19.5" text-anchor="middle">+</text>
<text x="1844.48" y="1723.46" font-size="19.5" text-anchor="middle">+</text>
<text x="1554.44" y="1747.69" font-size="17.5" text-anchor="end">200 mg/kg BD</text>
<text x="1586.11" y="1747.56" font-size="22.5" text-anchor="middle" style="stroke:none">-</text>
<text x="1637.78" y="1747.56" font-size="22.5" text-anchor="middle" style="stroke:none">-</text>
<text x="1689.46" y="1748.06" font-size="19.5" text-anchor="middle">+</text>
<text x="1741.13" y="1747.56" font-size="22.5" text-anchor="middle" style="stroke:none">-</text>
<text x="1792.8" y="1747.56" font-size="22.5" text-anchor="middle" style="stroke:none">-</text>
<text x="1844.48" y="1749.36" font-size="22.5" text-anchor="middle" style="stroke:none">-</text>
<text x="1556.94" y="1778.09" font-size="17.5" text-anchor="end">GDK (mg/kg)</text>
<text x="1586.11" y="1780.26" font-size="22.5" text-anchor="middle" style="stroke:none">-</text>
<text x="1637.78" y="1780.26" font-size="22.5" text-anchor="middle" style="stroke:none">-</text>
<text x="1689.46" y="1780.26" font-size="22.5" text-anchor="middle" style="stroke:none">-</text>
<text x="1739.83" y="1778.82" font-size="17.3" text-anchor="middle">1.17</text>
<text x="1791.2" y="1778.82" font-size="17.3" text-anchor="middle">2.34</text>
<text x="1842.58" y="1778.82" font-size="17.3" text-anchor="middle">4.68</text>
</g>
<text x="10.1" y="34.8" font-size="36" text-anchor="start">A</text>
<text x="123.1" y="1134" font-size="36" text-anchor="start">B</text>
</g>
</svg>
</body>
</html>
